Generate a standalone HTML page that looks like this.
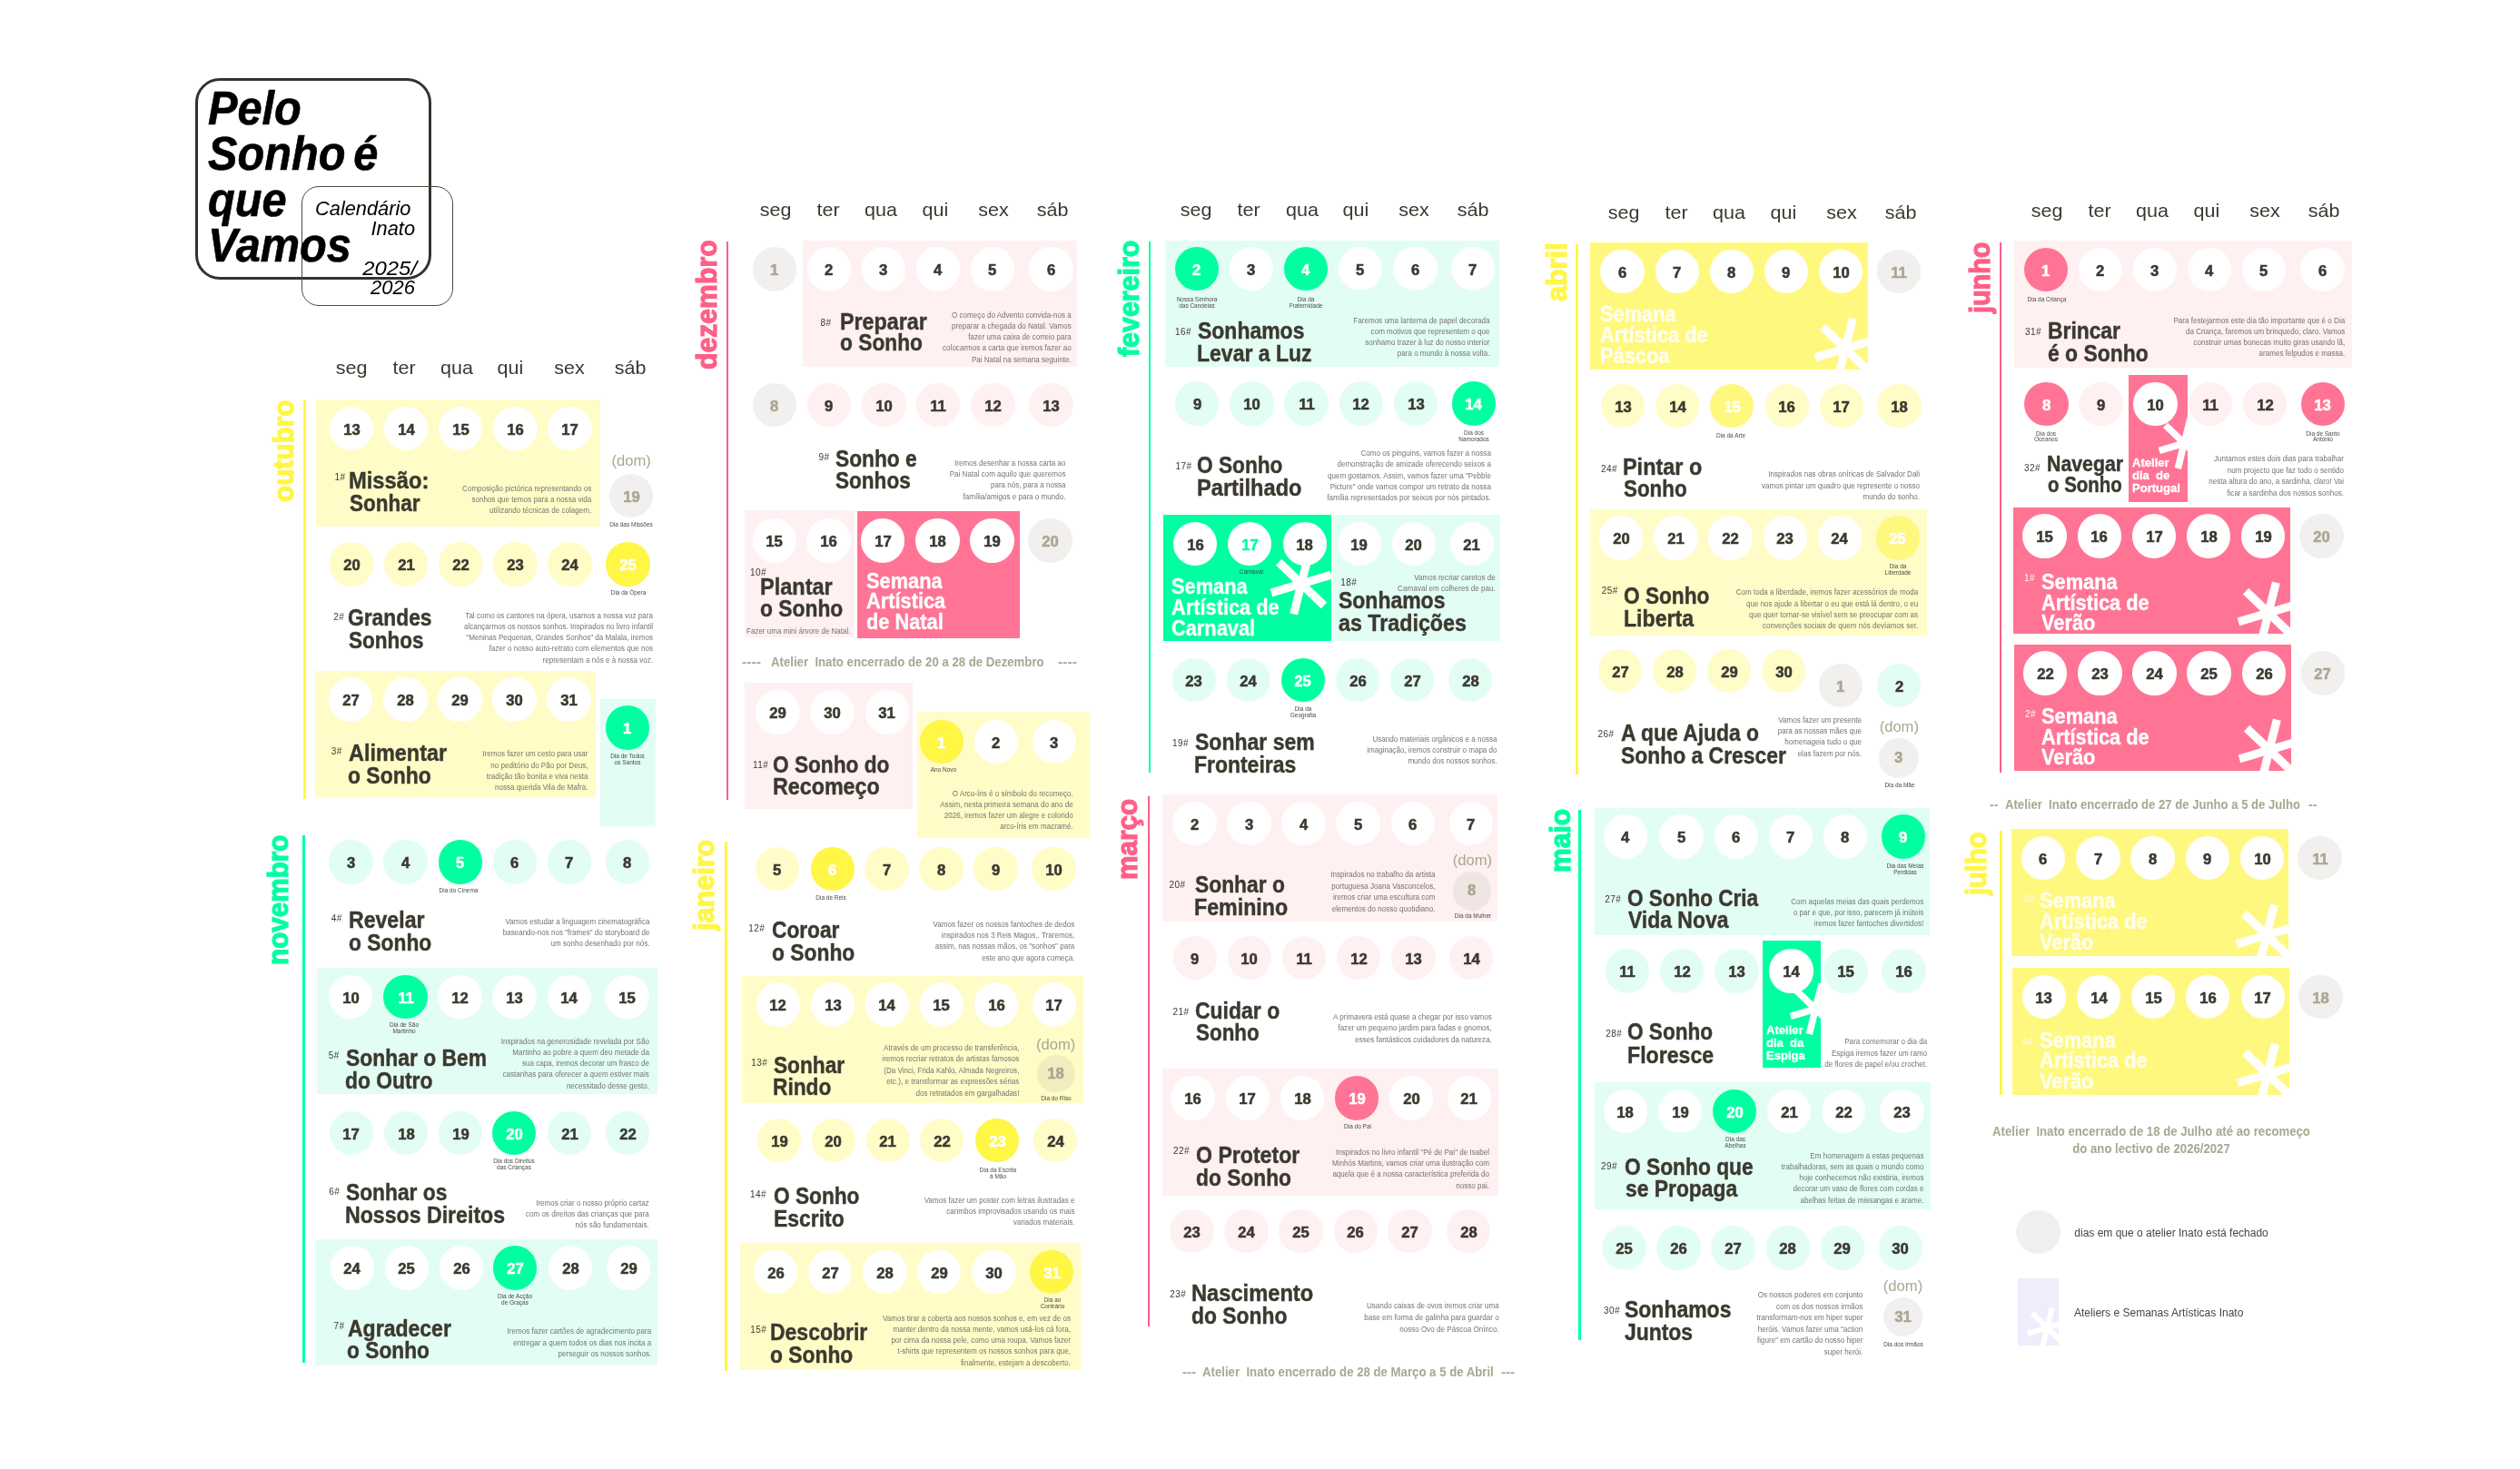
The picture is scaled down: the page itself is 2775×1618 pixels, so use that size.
<!DOCTYPE html>
<html lang="pt"><head><meta charset="utf-8"><title>Pelo Sonho é que Vamos — Calendário Inato 2025/2026</title><style>
html,body{margin:0;padding:0;background:#fff}
body{width:2775px;height:1618px;position:relative;overflow:hidden;font-family:"Liberation Sans",sans-serif}
#wrap{position:absolute;left:0;top:0;width:2775px;height:1618px;will-change:transform}
.r{position:absolute;box-sizing:border-box}
.t{position:absolute;white-space:nowrap;margin:0}
.m{font-weight:700}
.c{position:absolute;border-radius:50%;text-align:center;font-weight:700;font-size:17px;-webkit-text-stroke:0.55px currentColor}
.c span{display:inline-block;transform:scaleX(.98)}
.a{position:absolute;overflow:visible}
</style></head>
<body>
<div id="wrap">
<div class="r" style="left:214.6px;top:85.8px;width:260.5px;height:222px;border:3.2px solid #34332b;border-radius:27px;background:none"></div>
<div class="r" style="left:332px;top:204.5px;width:167px;height:132.4px;border:1.2px solid #4a4a40;border-radius:19px;background:none"></div>
<div id="t1" class="t" style="top:95.15px;font-size:51px;line-height:50.35px;color:#000;font-weight:700;font-style:italic;left:228.6px;text-align:left;transform-origin:0 0;transform:scaleX(0.955);-webkit-text-stroke:0.6px #000;word-spacing:-5px;"><span>Pelo</span><br>Sonho é<br>que<br>Vamos</div>
<div id="t2" class="t" style="top:219.47px;font-size:21.6px;line-height:21.7px;color:#000;font-style:italic;right:2322.7px;text-align:right;transform-origin:100% 0;transform:scaleX(1.0092);"><span>Calendário</span></div>
<div id="t3" class="t" style="top:241.27px;font-size:21.6px;line-height:21.7px;color:#000;font-style:italic;right:2317.8px;text-align:right;transform-origin:100% 0;transform:scaleX(1.0098);"><span>Inato</span></div>
<div id="t4" class="t" style="top:284.77px;font-size:21.6px;line-height:21.7px;color:#000;font-style:italic;right:2315.9px;text-align:right;transform-origin:100% 0;transform:scaleX(1.1083);"><span>2025/</span></div>
<div id="t5" class="t" style="top:306.27px;font-size:21.6px;line-height:21.7px;color:#000;font-style:italic;right:2317.8px;text-align:right;transform-origin:100% 0;transform:scaleX(1.0198);"><span>2026</span></div>
<div id="t6" class="t" style="top:393.49px;font-size:20.8px;line-height:24px;color:#3b392f;left:186.7px;width:400px;text-align:center;transform-origin:50% 0;transform:scaleX(1.035);"><span>seg</span></div>
<div id="t7" class="t" style="top:393.49px;font-size:20.8px;line-height:24px;color:#3b392f;left:244.6px;width:400px;text-align:center;transform-origin:50% 0;transform:scaleX(1.035);"><span>ter</span></div>
<div id="t8" class="t" style="top:393.49px;font-size:20.8px;line-height:24px;color:#3b392f;left:303.2px;width:400px;text-align:center;transform-origin:50% 0;transform:scaleX(1.035);"><span>qua</span></div>
<div id="t9" class="t" style="top:393.49px;font-size:20.8px;line-height:24px;color:#3b392f;left:362.4px;width:400px;text-align:center;transform-origin:50% 0;transform:scaleX(1.035);"><span>qui</span></div>
<div id="t10" class="t" style="top:393.49px;font-size:20.8px;line-height:24px;color:#3b392f;left:426.9px;width:400px;text-align:center;transform-origin:50% 0;transform:scaleX(1.035);"><span>sex</span></div>
<div id="t11" class="t" style="top:393.49px;font-size:20.8px;line-height:24px;color:#3b392f;left:494.1px;width:400px;text-align:center;transform-origin:50% 0;transform:scaleX(1.035);"><span>sáb</span></div>
<div id="t12" class="t m" style="left:296.96px;top:553px;font-size:31px;line-height:31px;color:#fff645;-webkit-text-stroke:1.2px #fff645;transform-origin:0 0;transform:rotate(-90deg) scaleX(0.9592)"><span>outubro</span></div>
<div class="r" style="left:333.8px;top:441.2px;width:2.8px;height:439.3px;background:#fff645"></div>
<div class="r" style="left:348.2px;top:440px;width:312.7px;height:139.8px;background:#fffcc7"></div>
<div class="c" style="left:362.9px;top:447.8px;width:48.4px;height:48.4px;line-height:51.4px;background:#fff;color:#3b392f"><span>13</span></div>
<div class="c" style="left:423px;top:447.8px;width:48.4px;height:48.4px;line-height:51.4px;background:#fff;color:#3b392f"><span>14</span></div>
<div class="c" style="left:483px;top:447.8px;width:48.4px;height:48.4px;line-height:51.4px;background:#fff;color:#3b392f"><span>15</span></div>
<div class="c" style="left:543.2px;top:447.8px;width:48.4px;height:48.4px;line-height:51.4px;background:#fff;color:#3b392f"><span>16</span></div>
<div class="c" style="left:603.2px;top:447.8px;width:48.4px;height:48.4px;line-height:51.4px;background:#fff;color:#3b392f"><span>17</span></div>
<div id="t13" class="t" style="top:519.93px;font-size:10px;line-height:12px;color:#3b392f;letter-spacing:0.45px;left:368.6px;text-align:left;transform-origin:0 0;"><span>1#</span></div>
<div id="t14" class="t" style="top:517.03px;font-size:25.6px;line-height:24.8px;color:#3b392f;font-weight:700;left:384.07px;text-align:left;transform-origin:0 0;transform:scaleX(0.9271);-webkit-text-stroke:0.45px #3b392f;"><span>Missão:</span></div>
<div id="t15" class="t" style="top:541.83px;font-size:25.6px;line-height:24.8px;color:#3b392f;font-weight:700;left:385px;text-align:left;transform-origin:0 0;transform:scaleX(0.8775);-webkit-text-stroke:0.45px #3b392f;"><span>Sonhar</span></div>
<div id="t16" class="t" style="top:531.57px;font-size:8.3px;line-height:12.1px;color:#74746e;right:2124.2px;text-align:right;transform-origin:100% 0;transform:scaleX(0.972);"><span>Composição pictórica representando os</span><br>sonhos que temos para a nossa vida<br>utilizando técnicas de colagem.</div>
<div id="t17" class="t" style="top:499.05px;font-size:16.6px;line-height:18px;color:#a9a792;left:495.2px;width:400px;text-align:center;transform-origin:50% 0;"><span>(dom)</span></div>
<div class="c" style="left:671px;top:521.6px;width:48.4px;height:48.4px;line-height:51.4px;background:#f1f0ee;color:#a9a792"><span>19</span></div>
<div id="t18" class="t" style="top:573.96px;font-size:7.2px;line-height:7.1px;color:#4a4a44;left:495.2px;width:400px;text-align:center;transform-origin:50% 0;transform:scaleX(0.9);"><span>Dia das Missões</span></div>
<div class="c" style="left:362.9px;top:597.4px;width:48.4px;height:48.4px;line-height:51.4px;background:#fffcc7;color:#3b392f"><span>20</span></div>
<div class="c" style="left:423px;top:597.4px;width:48.4px;height:48.4px;line-height:51.4px;background:#fffcc7;color:#3b392f"><span>21</span></div>
<div class="c" style="left:483px;top:597.4px;width:48.4px;height:48.4px;line-height:51.4px;background:#fffcc7;color:#3b392f"><span>22</span></div>
<div class="c" style="left:543.2px;top:597.4px;width:48.4px;height:48.4px;line-height:51.4px;background:#fffcc7;color:#3b392f"><span>23</span></div>
<div class="c" style="left:603.2px;top:597.4px;width:48.4px;height:48.4px;line-height:51.4px;background:#fffcc7;color:#3b392f"><span>24</span></div>
<div class="c" style="left:667.2px;top:597.4px;width:48.4px;height:48.4px;line-height:51.4px;background:#fff645;color:#fff"><span>25</span></div>
<div id="t19" class="t" style="top:648.86px;font-size:7.2px;line-height:7.1px;color:#4a4a44;left:491.6px;width:400px;text-align:center;transform-origin:50% 0;transform:scaleX(0.9);"><span>Dia da Ópera</span></div>
<div id="t20" class="t" style="top:674.23px;font-size:10px;line-height:12px;color:#3b392f;letter-spacing:0.45px;left:367.2px;text-align:left;transform-origin:0 0;"><span>2#</span></div>
<div id="t21" class="t" style="top:668.43px;font-size:25.6px;line-height:24.8px;color:#3b392f;font-weight:700;left:382.91px;text-align:left;transform-origin:0 0;transform:scaleX(0.8908);-webkit-text-stroke:0.45px #3b392f;"><span>Grandes</span></div>
<div id="t22" class="t" style="top:693.23px;font-size:25.6px;line-height:24.8px;color:#3b392f;font-weight:700;left:383.8px;text-align:left;transform-origin:0 0;transform:scaleX(0.8803);-webkit-text-stroke:0.45px #3b392f;"><span>Sonhos</span></div>
<div id="t23" class="t" style="top:671.6px;font-size:8.3px;line-height:12.25px;color:#74746e;right:2055.8px;text-align:right;transform-origin:100% 0;transform:scaleX(0.972);"><span>Tal como os cantores na ópera, usamos a nossa voz para</span><br>alcançarmos os nossos sonhos. Inspirados no livro infantil<br>"Meninas Pequenas, Grandes Sonhos" da Malala, iremos<br>fazer o nosso auto-retrato com elementos que nos<br>representam a nós e à nossa voz.</div>
<div class="r" style="left:346.8px;top:738.7px;width:309.4px;height:139.6px;background:#fffcc7"></div>
<div class="r" style="left:661.2px;top:770px;width:60.8px;height:139.6px;background:#e2fdf4"></div>
<div class="c" style="left:362px;top:746.2px;width:48.4px;height:48.4px;line-height:51.4px;background:#fff;color:#3b392f"><span>27</span></div>
<div class="c" style="left:422.2px;top:746.2px;width:48.4px;height:48.4px;line-height:51.4px;background:#fff;color:#3b392f"><span>28</span></div>
<div class="c" style="left:482.3px;top:746.2px;width:48.4px;height:48.4px;line-height:51.4px;background:#fff;color:#3b392f"><span>29</span></div>
<div class="c" style="left:542.4px;top:746.2px;width:48.4px;height:48.4px;line-height:51.4px;background:#fff;color:#3b392f"><span>30</span></div>
<div class="c" style="left:602.4px;top:746.2px;width:48.4px;height:48.4px;line-height:51.4px;background:#fff;color:#3b392f"><span>31</span></div>
<div class="c" style="left:666.6px;top:777.2px;width:48.4px;height:48.4px;line-height:51.4px;background:#00ffa0;color:#fff"><span>1</span></div>
<div id="t24" class="t" style="top:829.16px;font-size:7.2px;line-height:7.1px;color:#4a4a44;left:491.2px;width:400px;text-align:center;transform-origin:50% 0;transform:scaleX(0.9);"><span>Dia de Todos</span><br>os Santos</div>
<div id="t25" class="t" style="top:822.23px;font-size:10px;line-height:12px;color:#3b392f;letter-spacing:0.45px;left:364.8px;text-align:left;transform-origin:0 0;"><span>3#</span></div>
<div id="t26" class="t" style="top:817.43px;font-size:25.6px;line-height:24.8px;color:#3b392f;font-weight:700;left:383.6px;text-align:left;transform-origin:0 0;transform:scaleX(0.9163);-webkit-text-stroke:0.45px #3b392f;"><span>Alimentar</span></div>
<div id="t27" class="t" style="top:842.23px;font-size:25.6px;line-height:24.8px;color:#3b392f;font-weight:700;left:382.7px;text-align:left;transform-origin:0 0;transform:scaleX(0.8956);-webkit-text-stroke:0.45px #3b392f;"><span>o Sonho</span></div>
<div id="t28" class="t" style="top:824.46px;font-size:8.3px;line-height:12.33px;color:#74746e;right:2127.4px;text-align:right;transform-origin:100% 0;transform:scaleX(0.972);"><span>Iremos fazer um cesto para usar</span><br>no peditório do Pão por Deus,<br>tradição tão bonita e viva nesta<br>nossa querida Vila de Mafra.</div>
<div id="t29" class="t m" style="left:290.76px;top:1063px;font-size:31px;line-height:31px;color:#00ffa0;-webkit-text-stroke:1.2px #00ffa0;transform-origin:0 0;transform:rotate(-90deg) scaleX(0.9576)"><span>novembro</span></div>
<div class="r" style="left:333px;top:920px;width:2.8px;height:581px;background:#00ffa0"></div>
<div class="c" style="left:362.2px;top:925.4px;width:48.4px;height:48.4px;line-height:51.4px;background:#e2fdf4;color:#3b392f"><span>3</span></div>
<div class="c" style="left:422.2px;top:925.4px;width:48.4px;height:48.4px;line-height:51.4px;background:#e2fdf4;color:#3b392f"><span>4</span></div>
<div class="c" style="left:482.8px;top:925.4px;width:48.4px;height:48.4px;line-height:51.4px;background:#00ffa0;color:#fff"><span>5</span></div>
<div class="c" style="left:542.8px;top:925.4px;width:48.4px;height:48.4px;line-height:51.4px;background:#e2fdf4;color:#3b392f"><span>6</span></div>
<div class="c" style="left:602.8px;top:925.4px;width:48.4px;height:48.4px;line-height:51.4px;background:#e2fdf4;color:#3b392f"><span>7</span></div>
<div class="c" style="left:666.6px;top:925.4px;width:48.4px;height:48.4px;line-height:51.4px;background:#e2fdf4;color:#3b392f"><span>8</span></div>
<div id="t30" class="t" style="top:976.96px;font-size:7.2px;line-height:7.1px;color:#4a4a44;left:305.4px;width:400px;text-align:center;transform-origin:50% 0;transform:scaleX(0.9);"><span>Dia do Cinema</span></div>
<div id="t31" class="t" style="top:1006.03px;font-size:10px;line-height:12px;color:#3b392f;letter-spacing:0.45px;left:364.8px;text-align:left;transform-origin:0 0;"><span>4#</span></div>
<div id="t32" class="t" style="top:1001.23px;font-size:25.6px;line-height:24.8px;color:#3b392f;font-weight:700;left:384.1px;text-align:left;transform-origin:0 0;transform:scaleX(0.9024);-webkit-text-stroke:0.45px #3b392f;"><span>Revelar</span></div>
<div id="t33" class="t" style="top:1026.03px;font-size:25.6px;line-height:24.8px;color:#3b392f;font-weight:700;left:384.11px;text-align:left;transform-origin:0 0;transform:scaleX(0.8916);-webkit-text-stroke:0.45px #3b392f;"><span>o Sonho</span></div>
<div id="t34" class="t" style="top:1008.67px;font-size:8.3px;line-height:12.1px;color:#74746e;right:2059.8px;text-align:right;transform-origin:100% 0;transform:scaleX(0.972);"><span>Vamos estudar a linguagem cinematográfica</span><br>baseando-nos nos "frames" do storyboard de<br>um  sonho desenhado por nós.</div>
<div class="r" style="left:348.6px;top:1065.5px;width:375.5px;height:139.3px;background:#e2fdf4"></div>
<div class="c" style="left:361.8px;top:1074px;width:48.4px;height:48.4px;line-height:51.4px;background:#fff;color:#3b392f"><span>10</span></div>
<div class="c" style="left:422.4px;top:1074px;width:48.4px;height:48.4px;line-height:51.4px;background:#00ffa0;color:#fff"><span>11</span></div>
<div class="c" style="left:482.4px;top:1074px;width:48.4px;height:48.4px;line-height:51.4px;background:#fff;color:#3b392f"><span>12</span></div>
<div class="c" style="left:542.4px;top:1074px;width:48.4px;height:48.4px;line-height:51.4px;background:#fff;color:#3b392f"><span>13</span></div>
<div class="c" style="left:602.6px;top:1074px;width:48.4px;height:48.4px;line-height:51.4px;background:#fff;color:#3b392f"><span>14</span></div>
<div class="c" style="left:666.2px;top:1074px;width:48.4px;height:48.4px;line-height:51.4px;background:#fff;color:#3b392f"><span>15</span></div>
<div id="t35" class="t" style="top:1124.76px;font-size:7.2px;line-height:7.1px;color:#4a4a44;left:244.6px;width:400px;text-align:center;transform-origin:50% 0;transform:scaleX(0.9);"><span>Dia de São</span><br>Martinho</div>
<div id="t36" class="t" style="top:1157.24px;font-size:10px;line-height:12px;color:#3b392f;letter-spacing:0.45px;left:361.8px;text-align:left;transform-origin:0 0;"><span>5#</span></div>
<div id="t37" class="t" style="top:1152.83px;font-size:25.6px;line-height:24.8px;color:#3b392f;font-weight:700;left:380.8px;text-align:left;transform-origin:0 0;transform:scaleX(0.8938);-webkit-text-stroke:0.45px #3b392f;"><span>Sonhar o Bem</span></div>
<div id="t38" class="t" style="top:1177.63px;font-size:25.6px;line-height:24.8px;color:#3b392f;font-weight:700;left:379.91px;text-align:left;transform-origin:0 0;transform:scaleX(0.8928);-webkit-text-stroke:0.45px #3b392f;"><span>do Outro</span></div>
<div id="t39" class="t" style="top:1140.59px;font-size:8.3px;line-height:12.28px;color:#74746e;right:2060.4px;text-align:right;transform-origin:100% 0;transform:scaleX(0.972);"><span>Inspirados na generosidade revelada por São</span><br>Martinho ao pobre a quem deu metade da<br>sua capa, iremos decorar um frasco de<br>castanhas para oferecer a quem estiver mais<br>necessitado desse gesto.</div>
<div class="c" style="left:362.6px;top:1223.5px;width:48.4px;height:48.4px;line-height:51.4px;background:#e2fdf4;color:#3b392f"><span>17</span></div>
<div class="c" style="left:422.8px;top:1223.5px;width:48.4px;height:48.4px;line-height:51.4px;background:#e2fdf4;color:#3b392f"><span>18</span></div>
<div class="c" style="left:482.8px;top:1223.5px;width:48.4px;height:48.4px;line-height:51.4px;background:#e2fdf4;color:#3b392f"><span>19</span></div>
<div class="c" style="left:542px;top:1223.5px;width:48.4px;height:48.4px;line-height:51.4px;background:#00ffa0;color:#fff"><span>20</span></div>
<div class="c" style="left:602.8px;top:1223.5px;width:48.4px;height:48.4px;line-height:51.4px;background:#e2fdf4;color:#3b392f"><span>21</span></div>
<div class="c" style="left:666.8px;top:1223.5px;width:48.4px;height:48.4px;line-height:51.4px;background:#e2fdf4;color:#3b392f"><span>22</span></div>
<div id="t40" class="t" style="top:1275.06px;font-size:7.2px;line-height:7.1px;color:#4a4a44;left:365.8px;width:400px;text-align:center;transform-origin:50% 0;transform:scaleX(0.9);"><span>Dia dos Direitos</span><br>das Crianças</div>
<div id="t41" class="t" style="top:1306.84px;font-size:10px;line-height:12px;color:#3b392f;letter-spacing:0.45px;left:362.2px;text-align:left;transform-origin:0 0;"><span>6#</span></div>
<div id="t42" class="t" style="top:1300.88px;font-size:25.6px;line-height:25.5px;color:#3b392f;font-weight:700;left:381.2px;text-align:left;transform-origin:0 0;transform:scaleX(0.8894);-webkit-text-stroke:0.45px #3b392f;"><span>Sonhar os</span></div>
<div id="t43" class="t" style="top:1326.38px;font-size:25.6px;line-height:25.5px;color:#3b392f;font-weight:700;left:380.3px;text-align:left;transform-origin:0 0;transform:scaleX(0.9038);-webkit-text-stroke:0.45px #3b392f;"><span>Nossos Direitos</span></div>
<div id="t44" class="t" style="top:1318.62px;font-size:8.3px;line-height:12.4px;color:#74746e;right:2059.8px;text-align:right;transform-origin:100% 0;transform:scaleX(0.972);"><span>Iremos criar o nosso próprio cartaz</span><br>com os direitos das crianças que para<br>nós são fundamentais.</div>
<div class="r" style="left:348.2px;top:1364.5px;width:375.9px;height:139.9px;background:#e2fdf4"></div>
<div class="c" style="left:363.6px;top:1372.2px;width:48.4px;height:48.4px;line-height:51.4px;background:#fff;color:#3b392f"><span>24</span></div>
<div class="c" style="left:423.6px;top:1372.2px;width:48.4px;height:48.4px;line-height:51.4px;background:#fff;color:#3b392f"><span>25</span></div>
<div class="c" style="left:483.8px;top:1372.2px;width:48.4px;height:48.4px;line-height:51.4px;background:#fff;color:#3b392f"><span>26</span></div>
<div class="c" style="left:543px;top:1372.2px;width:48.4px;height:48.4px;line-height:51.4px;background:#00ffa0;color:#fff"><span>27</span></div>
<div class="c" style="left:604px;top:1372.2px;width:48.4px;height:48.4px;line-height:51.4px;background:#fff;color:#3b392f"><span>28</span></div>
<div class="c" style="left:667.8px;top:1372.2px;width:48.4px;height:48.4px;line-height:51.4px;background:#fff;color:#3b392f"><span>29</span></div>
<div id="t45" class="t" style="top:1423.96px;font-size:7.2px;line-height:7.1px;color:#4a4a44;left:367.4px;width:400px;text-align:center;transform-origin:50% 0;transform:scaleX(0.9);"><span>Dia de Acção</span><br>de Graças</div>
<div id="t46" class="t" style="top:1454.84px;font-size:10px;line-height:12px;color:#3b392f;letter-spacing:0.45px;left:367.6px;text-align:left;transform-origin:0 0;"><span>7#</span></div>
<div id="t47" class="t" style="top:1450.63px;font-size:25.6px;line-height:24.8px;color:#3b392f;font-weight:700;left:382.8px;text-align:left;transform-origin:0 0;transform:scaleX(0.8994);-webkit-text-stroke:0.45px #3b392f;"><span>Agradecer</span></div>
<div id="t48" class="t" style="top:1475.43px;font-size:25.6px;line-height:24.8px;color:#3b392f;font-weight:700;left:381.91px;text-align:left;transform-origin:0 0;transform:scaleX(0.8886);-webkit-text-stroke:0.45px #3b392f;"><span>o Sonho</span></div>
<div id="t49" class="t" style="top:1460.42px;font-size:8.3px;line-height:12.4px;color:#74746e;right:2058.2px;text-align:right;transform-origin:100% 0;transform:scaleX(0.972);"><span>Iremos fazer cartões de agradecimento para</span><br>entregar a quem todos os dias nos incita a<br>perseguir os nossos sonhos.</div>
<div id="t50" class="t" style="top:219.19px;font-size:20.8px;line-height:24px;color:#3b392f;left:653.9px;width:400px;text-align:center;transform-origin:50% 0;transform:scaleX(1.035);"><span>seg</span></div>
<div id="t51" class="t" style="top:219.19px;font-size:20.8px;line-height:24px;color:#3b392f;left:712px;width:400px;text-align:center;transform-origin:50% 0;transform:scaleX(1.035);"><span>ter</span></div>
<div id="t52" class="t" style="top:219.19px;font-size:20.8px;line-height:24px;color:#3b392f;left:770.2px;width:400px;text-align:center;transform-origin:50% 0;transform:scaleX(1.035);"><span>qua</span></div>
<div id="t53" class="t" style="top:219.19px;font-size:20.8px;line-height:24px;color:#3b392f;left:829.6px;width:400px;text-align:center;transform-origin:50% 0;transform:scaleX(1.035);"><span>qui</span></div>
<div id="t54" class="t" style="top:219.19px;font-size:20.8px;line-height:24px;color:#3b392f;left:893.7px;width:400px;text-align:center;transform-origin:50% 0;transform:scaleX(1.035);"><span>sex</span></div>
<div id="t55" class="t" style="top:219.19px;font-size:20.8px;line-height:24px;color:#3b392f;left:959.3px;width:400px;text-align:center;transform-origin:50% 0;transform:scaleX(1.035);"><span>sáb</span></div>
<div id="t56" class="t m" style="left:763.16px;top:406.9px;font-size:31px;line-height:31px;color:#ff5f87;-webkit-text-stroke:1.2px #ff5f87;transform-origin:0 0;transform:rotate(-90deg) scaleX(0.9739)"><span>dezembro</span></div>
<div class="r" style="left:799.6px;top:266.3px;width:2.8px;height:614.4px;background:#ff5f87"></div>
<div class="r" style="left:884.4px;top:264.8px;width:301.6px;height:139.5px;background:#fff0f1"></div>
<div class="c" style="left:828.7px;top:272.4px;width:48.4px;height:48.4px;line-height:51.4px;background:#f1f0ee;color:#a9a792"><span>1</span></div>
<div class="c" style="left:888.8px;top:272.4px;width:48.4px;height:48.4px;line-height:51.4px;background:#fff;color:#3b392f"><span>2</span></div>
<div class="c" style="left:948.8px;top:272.4px;width:48.4px;height:48.4px;line-height:51.4px;background:#fff;color:#3b392f"><span>3</span></div>
<div class="c" style="left:1008.8px;top:272.4px;width:48.4px;height:48.4px;line-height:51.4px;background:#fff;color:#3b392f"><span>4</span></div>
<div class="c" style="left:1068.9px;top:272.4px;width:48.4px;height:48.4px;line-height:51.4px;background:#fff;color:#3b392f"><span>5</span></div>
<div class="c" style="left:1133.2px;top:272.4px;width:48.4px;height:48.4px;line-height:51.4px;background:#fff;color:#3b392f"><span>6</span></div>
<div id="t57" class="t" style="top:350.13px;font-size:10px;line-height:12px;color:#3b392f;letter-spacing:0.45px;left:903.4px;text-align:left;transform-origin:0 0;"><span>8#</span></div>
<div id="t58" class="t" style="top:342.83px;font-size:25.6px;line-height:23.6px;color:#3b392f;font-weight:700;left:924.69px;text-align:left;transform-origin:0 0;transform:scaleX(0.9096);-webkit-text-stroke:0.45px #3b392f;"><span>Preparar</span></div>
<div id="t59" class="t" style="top:366.43px;font-size:25.6px;line-height:23.6px;color:#3b392f;font-weight:700;left:924.71px;text-align:left;transform-origin:0 0;transform:scaleX(0.8886);-webkit-text-stroke:0.45px #3b392f;"><span>o Sonho</span></div>
<div id="t60" class="t" style="top:340.6px;font-size:8.3px;line-height:12.25px;color:#74746e;right:1595.2px;text-align:right;transform-origin:100% 0;transform:scaleX(0.972);"><span>O começo do Advento convida-nos a</span><br>preparar a chegada do Natal. Vamos<br>fazer uma caixa de correio para<br>colocarmos a carta que iremos fazer ao<br>Pai Natal na semana seguinte.</div>
<div class="c" style="left:828.7px;top:422.1px;width:48.4px;height:48.4px;line-height:51.4px;background:#f1f0ee;color:#a9a792"><span>8</span></div>
<div class="c" style="left:888.8px;top:422.1px;width:48.4px;height:48.4px;line-height:51.4px;background:#fff0f1;color:#3b392f"><span>9</span></div>
<div class="c" style="left:949.2px;top:422.1px;width:48.4px;height:48.4px;line-height:51.4px;background:#fff0f1;color:#3b392f"><span>10</span></div>
<div class="c" style="left:1008.8px;top:422.1px;width:48.4px;height:48.4px;line-height:51.4px;background:#fff0f1;color:#3b392f"><span>11</span></div>
<div class="c" style="left:1069.2px;top:422.1px;width:48.4px;height:48.4px;line-height:51.4px;background:#fff0f1;color:#3b392f"><span>12</span></div>
<div class="c" style="left:1133.2px;top:422.1px;width:48.4px;height:48.4px;line-height:51.4px;background:#fff0f1;color:#3b392f"><span>13</span></div>
<div id="t61" class="t" style="top:497.94px;font-size:10px;line-height:12px;color:#3b392f;letter-spacing:0.45px;left:901.5px;text-align:left;transform-origin:0 0;"><span>9#</span></div>
<div id="t62" class="t" style="top:493.03px;font-size:25.6px;line-height:24px;color:#3b392f;font-weight:700;left:919.5px;text-align:left;transform-origin:0 0;transform:scaleX(0.8886);-webkit-text-stroke:0.45px #3b392f;"><span>Sonho e</span></div>
<div id="t63" class="t" style="top:517.03px;font-size:25.6px;line-height:24px;color:#3b392f;font-weight:700;left:919.5px;text-align:left;transform-origin:0 0;transform:scaleX(0.8814);-webkit-text-stroke:0.45px #3b392f;"><span>Sonhos</span></div>
<div id="t64" class="t" style="top:503.79px;font-size:8.3px;line-height:12.27px;color:#74746e;right:1601.4px;text-align:right;transform-origin:100% 0;transform:scaleX(0.972);"><span>Iremos desenhar a nossa carta ao</span><br>Pai Natal com aquilo que queremos<br>para nós, para a nossa<br>família/amigos e para o mundo.</div>
<div class="r" style="left:820.1px;top:562.4px;width:120.5px;height:139.7px;background:#fff0f1"></div>
<div class="r" style="left:944px;top:563.1px;width:179px;height:139.6px;background:#ff7495"></div>
<div class="c" style="left:828.7px;top:571.2px;width:48.4px;height:48.4px;line-height:51.4px;background:#fff;color:#3b392f"><span>15</span></div>
<div class="c" style="left:888.2px;top:571.2px;width:48.4px;height:48.4px;line-height:51.4px;background:#fff;color:#3b392f"><span>16</span></div>
<div class="c" style="left:947.8px;top:571.2px;width:48.4px;height:48.4px;line-height:51.4px;background:#fff;color:#3b392f"><span>17</span></div>
<div class="c" style="left:1008.3px;top:571.2px;width:48.4px;height:48.4px;line-height:51.4px;background:#fff;color:#3b392f"><span>18</span></div>
<div class="c" style="left:1068.3px;top:571.2px;width:48.4px;height:48.4px;line-height:51.4px;background:#fff;color:#3b392f"><span>19</span></div>
<div class="c" style="left:1132.2px;top:571.2px;width:48.4px;height:48.4px;line-height:51.4px;background:#f1f0ee;color:#a9a792"><span>20</span></div>
<div id="t65" class="t" style="top:625.03px;font-size:10px;line-height:12px;color:#3b392f;letter-spacing:0.45px;left:826px;text-align:left;transform-origin:0 0;"><span>10#</span></div>
<div id="t66" class="t" style="top:633.63px;font-size:25.6px;line-height:24.8px;color:#3b392f;font-weight:700;left:837.28px;text-align:left;transform-origin:0 0;transform:scaleX(0.9183);-webkit-text-stroke:0.45px #3b392f;"><span>Plantar</span></div>
<div id="t67" class="t" style="top:658.43px;font-size:25.6px;line-height:24.8px;color:#3b392f;font-weight:700;left:837.31px;text-align:left;transform-origin:0 0;transform:scaleX(0.8916);-webkit-text-stroke:0.45px #3b392f;"><span>o Sonho</span></div>
<div id="t68" class="t" style="top:688.52px;font-size:8.3px;line-height:12px;color:#74746e;right:1838.8px;text-align:right;transform-origin:100% 0;transform:scaleX(0.966);"><span>Fazer uma mini árvore de Natal.</span></div>
<div id="t69" class="t" style="top:628.76px;font-size:23.2px;line-height:22.4px;color:#fff;font-weight:700;left:953.6px;text-align:left;transform-origin:0 0;transform:scaleX(0.94);-webkit-text-stroke:0.35px #fff;"><span>Semana</span><br>Artística<br>de Natal</div>
<div id="t70" class="t" style="top:721.44px;font-size:14.6px;line-height:16px;color:#a9a792;font-weight:700;left:849.1px;text-align:left;transform-origin:0 0;transform:scaleX(0.9039);white-space:pre;"><span>Atelier  Inato encerrado de 20 a 28 de Dezembro</span></div>
<div id="t71" class="t" style="top:721.44px;font-size:14.6px;line-height:16px;color:#a9a792;font-weight:700;left:816.7px;text-align:left;transform-origin:0 0;transform:scaleX(1.0795);"><span>----</span></div>
<div id="t72" class="t" style="top:721.44px;font-size:14.6px;line-height:16px;color:#a9a792;font-weight:700;left:1164.6px;text-align:left;transform-origin:0 0;transform:scaleX(1.0795);"><span>----</span></div>
<div class="r" style="left:820.1px;top:751.5px;width:184.9px;height:139.1px;background:#fff0f1"></div>
<div class="r" style="left:1009.8px;top:783.9px;width:190.1px;height:139.5px;background:#fffcc7"></div>
<div class="c" style="left:832.2px;top:760.2px;width:48.4px;height:48.4px;line-height:51.4px;background:#fff;color:#3b392f"><span>29</span></div>
<div class="c" style="left:892.2px;top:760.2px;width:48.4px;height:48.4px;line-height:51.4px;background:#fff;color:#3b392f"><span>30</span></div>
<div class="c" style="left:952.6px;top:760.2px;width:48.4px;height:48.4px;line-height:51.4px;background:#fff;color:#3b392f"><span>31</span></div>
<div class="c" style="left:1012.7px;top:793px;width:48.4px;height:48.4px;line-height:51.4px;background:#fff645;color:#fff"><span>1</span></div>
<div class="c" style="left:1072.7px;top:793px;width:48.4px;height:48.4px;line-height:51.4px;background:#fff;color:#3b392f"><span>2</span></div>
<div class="c" style="left:1136.6px;top:793px;width:48.4px;height:48.4px;line-height:51.4px;background:#fff;color:#3b392f"><span>3</span></div>
<div id="t73" class="t" style="top:843.96px;font-size:7.2px;line-height:7.1px;color:#4a4a44;left:838.8px;width:400px;text-align:center;transform-origin:50% 0;transform:scaleX(0.9);"><span>Ano Novo</span></div>
<div id="t74" class="t" style="top:837.03px;font-size:10px;line-height:12px;color:#3b392f;letter-spacing:0.45px;left:829px;text-align:left;transform-origin:0 0;"><span>11#</span></div>
<div id="t75" class="t" style="top:831.18px;font-size:25.6px;line-height:23.9px;color:#3b392f;font-weight:700;left:851.31px;text-align:left;transform-origin:0 0;transform:scaleX(0.8851);-webkit-text-stroke:0.45px #3b392f;"><span>O Sonho do</span></div>
<div id="t76" class="t" style="top:855.08px;font-size:25.6px;line-height:23.9px;color:#3b392f;font-weight:700;left:851.29px;text-align:left;transform-origin:0 0;transform:scaleX(0.9092);-webkit-text-stroke:0.45px #3b392f;"><span>Recomeço</span></div>
<div id="t77" class="t" style="top:867.69px;font-size:8.3px;line-height:12.27px;color:#74746e;right:1593.2px;text-align:right;transform-origin:100% 0;transform:scaleX(0.972);"><span>O Arco-Íris é o símbolo do recomeço.</span><br>Assim, nesta primeira semana do ano de<br>2026, iremos fazer um alegre e colorido<br>arco-íris em macramé.</div>
<div id="t78" class="t m" style="left:759.96px;top:1024.6px;font-size:31px;line-height:31px;color:#fff645;-webkit-text-stroke:1.2px #fff645;transform-origin:0 0;transform:rotate(-90deg) scaleX(0.9867)"><span>janeiro</span></div>
<div class="r" style="left:798.3px;top:926.5px;width:2.8px;height:583.1px;background:#fff645"></div>
<div class="c" style="left:832px;top:933px;width:48.4px;height:48.4px;line-height:51.4px;background:#fffcc7;color:#3b392f"><span>5</span></div>
<div class="c" style="left:892.6px;top:933px;width:48.4px;height:48.4px;line-height:51.4px;background:#fff645;color:#fff"><span>6</span></div>
<div class="c" style="left:952.3px;top:933px;width:48.4px;height:48.4px;line-height:51.4px;background:#fffcc7;color:#3b392f"><span>7</span></div>
<div class="c" style="left:1012.3px;top:933px;width:48.4px;height:48.4px;line-height:51.4px;background:#fffcc7;color:#3b392f"><span>8</span></div>
<div class="c" style="left:1072.3px;top:933px;width:48.4px;height:48.4px;line-height:51.4px;background:#fffcc7;color:#3b392f"><span>9</span></div>
<div class="c" style="left:1136.2px;top:933px;width:48.4px;height:48.4px;line-height:51.4px;background:#fffcc7;color:#3b392f"><span>10</span></div>
<div id="t79" class="t" style="top:984.76px;font-size:7.2px;line-height:7.1px;color:#4a4a44;left:715.3px;width:400px;text-align:center;transform-origin:50% 0;transform:scaleX(0.9);"><span>Dia de Reis</span></div>
<div id="t80" class="t" style="top:1017.33px;font-size:10px;line-height:12px;color:#3b392f;letter-spacing:0.45px;left:824.3px;text-align:left;transform-origin:0 0;"><span>12#</span></div>
<div id="t81" class="t" style="top:1012.23px;font-size:25.6px;line-height:24.4px;color:#3b392f;font-weight:700;left:850.31px;text-align:left;transform-origin:0 0;transform:scaleX(0.8873);-webkit-text-stroke:0.45px #3b392f;"><span>Coroar</span></div>
<div id="t82" class="t" style="top:1036.63px;font-size:25.6px;line-height:24.4px;color:#3b392f;font-weight:700;left:850.31px;text-align:left;transform-origin:0 0;transform:scaleX(0.8916);-webkit-text-stroke:0.45px #3b392f;"><span>o Sonho</span></div>
<div id="t83" class="t" style="top:1011.91px;font-size:8.3px;line-height:12.23px;color:#74746e;right:1592px;text-align:right;transform-origin:100% 0;transform:scaleX(0.972);"><span>Vamos fazer os nossos fantoches de dedos</span><br>inspirados nos 3 Reis Magos,. Traremos,<br>assim, nas nossas mãos, os "sonhos" para<br>este ano que agora começa.</div>
<div class="r" style="left:817.3px;top:1075px;width:375.3px;height:139.7px;background:#fffcc7"></div>
<div class="c" style="left:832.5px;top:1082.2px;width:48.4px;height:48.4px;line-height:51.4px;background:#fff;color:#3b392f"><span>12</span></div>
<div class="c" style="left:893px;top:1082.2px;width:48.4px;height:48.4px;line-height:51.4px;background:#fff;color:#3b392f"><span>13</span></div>
<div class="c" style="left:952.6px;top:1082.2px;width:48.4px;height:48.4px;line-height:51.4px;background:#fff;color:#3b392f"><span>14</span></div>
<div class="c" style="left:1012.7px;top:1082.2px;width:48.4px;height:48.4px;line-height:51.4px;background:#fff;color:#3b392f"><span>15</span></div>
<div class="c" style="left:1073.1px;top:1082.2px;width:48.4px;height:48.4px;line-height:51.4px;background:#fff;color:#3b392f"><span>16</span></div>
<div class="c" style="left:1136.6px;top:1082.2px;width:48.4px;height:48.4px;line-height:51.4px;background:#fff;color:#3b392f"><span>17</span></div>
<div id="t84" class="t" style="top:1142.15px;font-size:16.6px;line-height:18px;color:#a9a792;left:962.7px;width:400px;text-align:center;transform-origin:50% 0;"><span>(dom)</span></div>
<div class="c" style="left:1142px;top:1161.7px;width:41.6px;height:41.6px;line-height:41.6px;background:#f1edbe;color:#a9a792"><span>18</span></div>
<div id="t85" class="t" style="top:1206.06px;font-size:7.2px;line-height:7.1px;color:#4a4a44;left:963.3px;width:400px;text-align:center;transform-origin:50% 0;transform:scaleX(0.9);"><span>Dia do Riso</span></div>
<div id="t86" class="t" style="top:1165.14px;font-size:10px;line-height:12px;color:#3b392f;letter-spacing:0.45px;left:827.2px;text-align:left;transform-origin:0 0;"><span>13#</span></div>
<div id="t87" class="t" style="top:1160.58px;font-size:25.6px;line-height:24.5px;color:#3b392f;font-weight:700;left:851.8px;text-align:left;transform-origin:0 0;transform:scaleX(0.8854);-webkit-text-stroke:0.45px #3b392f;"><span>Sonhar</span></div>
<div id="t88" class="t" style="top:1185.08px;font-size:25.6px;line-height:24.5px;color:#3b392f;font-weight:700;left:850.91px;text-align:left;transform-origin:0 0;transform:scaleX(0.8877);-webkit-text-stroke:0.45px #3b392f;"><span>Rindo</span></div>
<div id="t89" class="t" style="top:1147.69px;font-size:8.3px;line-height:12.48px;color:#74746e;right:1653px;text-align:right;transform-origin:100% 0;transform:scaleX(0.972);"><span>Através de um processo de transferência,</span><br>iremos recriar retratos de artistas famosos <br>(Da Vinci, Frida Kahlo, Almada Negreiros,<br>etc.), e transformar as expressões sérias<br>dos retratados em gargalhadas!</div>
<div class="c" style="left:833.9px;top:1231.5px;width:48.4px;height:48.4px;line-height:51.4px;background:#fffcc7;color:#3b392f"><span>19</span></div>
<div class="c" style="left:893.5px;top:1231.5px;width:48.4px;height:48.4px;line-height:51.4px;background:#fffcc7;color:#3b392f"><span>20</span></div>
<div class="c" style="left:953.6px;top:1231.5px;width:48.4px;height:48.4px;line-height:51.4px;background:#fffcc7;color:#3b392f"><span>21</span></div>
<div class="c" style="left:1013.1px;top:1231.5px;width:48.4px;height:48.4px;line-height:51.4px;background:#fffcc7;color:#3b392f"><span>22</span></div>
<div class="c" style="left:1074.1px;top:1231.5px;width:48.4px;height:48.4px;line-height:51.4px;background:#fff645;color:#fff"><span>23</span></div>
<div class="c" style="left:1137.9px;top:1231.5px;width:48.4px;height:48.4px;line-height:51.4px;background:#fffcc7;color:#3b392f"><span>24</span></div>
<div id="t90" class="t" style="top:1284.86px;font-size:7.2px;line-height:7.1px;color:#4a4a44;left:898.5px;width:400px;text-align:center;transform-origin:50% 0;transform:scaleX(0.9);"><span>Dia da Escrita</span><br>à Mão</div>
<div id="t91" class="t" style="top:1310.14px;font-size:10px;line-height:12px;color:#3b392f;letter-spacing:0.45px;left:825.9px;text-align:left;transform-origin:0 0;"><span>14#</span></div>
<div id="t92" class="t" style="top:1305.03px;font-size:25.6px;line-height:24.8px;color:#3b392f;font-weight:700;left:851.91px;text-align:left;transform-origin:0 0;transform:scaleX(0.8858);-webkit-text-stroke:0.45px #3b392f;"><span>O Sonho</span></div>
<div id="t93" class="t" style="top:1329.83px;font-size:25.6px;line-height:24.8px;color:#3b392f;font-weight:700;left:851.9px;text-align:left;transform-origin:0 0;transform:scaleX(0.8951);-webkit-text-stroke:0.45px #3b392f;"><span>Escrito</span></div>
<div id="t94" class="t" style="top:1315.82px;font-size:8.3px;line-height:12px;color:#74746e;right:1591.9px;text-align:right;transform-origin:100% 0;transform:scaleX(0.972);"><span>Vamos fazer um poster com letras ilustradas e</span><br>carimbos improvisados usando os mais<br>variados materiais.</div>
<div class="r" style="left:814.8px;top:1369.1px;width:375.2px;height:139.5px;background:#fffcc7"></div>
<div class="c" style="left:830.1px;top:1376.5px;width:48.4px;height:48.4px;line-height:51.4px;background:#fff;color:#3b392f"><span>26</span></div>
<div class="c" style="left:890.1px;top:1376.5px;width:48.4px;height:48.4px;line-height:51.4px;background:#fff;color:#3b392f"><span>27</span></div>
<div class="c" style="left:950.2px;top:1376.5px;width:48.4px;height:48.4px;line-height:51.4px;background:#fff;color:#3b392f"><span>28</span></div>
<div class="c" style="left:1009.8px;top:1376.5px;width:48.4px;height:48.4px;line-height:51.4px;background:#fff;color:#3b392f"><span>29</span></div>
<div class="c" style="left:1070.4px;top:1376.5px;width:48.4px;height:48.4px;line-height:51.4px;background:#fff;color:#3b392f"><span>30</span></div>
<div class="c" style="left:1134.1px;top:1376.5px;width:48.4px;height:48.4px;line-height:51.4px;background:#fff645;color:#fff"><span>31</span></div>
<div id="t95" class="t" style="top:1427.76px;font-size:7.2px;line-height:7.1px;color:#4a4a44;left:958.6px;width:400px;text-align:center;transform-origin:50% 0;transform:scaleX(0.9);"><span>Dia ao</span><br>Contrário</div>
<div id="t96" class="t" style="top:1458.84px;font-size:10px;line-height:12px;color:#3b392f;letter-spacing:0.45px;left:826.2px;text-align:left;transform-origin:0 0;"><span>15#</span></div>
<div id="t97" class="t" style="top:1454.83px;font-size:25.6px;line-height:24.8px;color:#3b392f;font-weight:700;left:848.4px;text-align:left;transform-origin:0 0;transform:scaleX(0.8977);-webkit-text-stroke:0.45px #3b392f;"><span>Descobrir</span></div>
<div id="t98" class="t" style="top:1479.63px;font-size:25.6px;line-height:24.8px;color:#3b392f;font-weight:700;left:848.41px;text-align:left;transform-origin:0 0;transform:scaleX(0.8916);-webkit-text-stroke:0.45px #3b392f;"><span>o Sonho</span></div>
<div id="t99" class="t" style="top:1445.7px;font-size:8.3px;line-height:12.25px;color:#74746e;right:1595.7px;text-align:right;transform-origin:100% 0;transform:scaleX(0.972);"><span>Vamos tirar a coberta aos nossos sonhos e, em vez de os</span><br>manter dentro da nossa mente, vamos usá-los cá fora,<br>por cima da nossa pele, como uma roupa. Vamos fazer<br>t-shirts que representem os nossos sonhos para que,<br>finalmente, estejam a descoberto.</div>
<div id="t100" class="t" style="top:219.19px;font-size:20.8px;line-height:24px;color:#3b392f;left:1117.3px;width:400px;text-align:center;transform-origin:50% 0;transform:scaleX(1.035);"><span>seg</span></div>
<div id="t101" class="t" style="top:219.19px;font-size:20.8px;line-height:24px;color:#3b392f;left:1175.3px;width:400px;text-align:center;transform-origin:50% 0;transform:scaleX(1.035);"><span>ter</span></div>
<div id="t102" class="t" style="top:219.19px;font-size:20.8px;line-height:24px;color:#3b392f;left:1233.6px;width:400px;text-align:center;transform-origin:50% 0;transform:scaleX(1.035);"><span>qua</span></div>
<div id="t103" class="t" style="top:219.19px;font-size:20.8px;line-height:24px;color:#3b392f;left:1292.7px;width:400px;text-align:center;transform-origin:50% 0;transform:scaleX(1.035);"><span>qui</span></div>
<div id="t104" class="t" style="top:219.19px;font-size:20.8px;line-height:24px;color:#3b392f;left:1357.3px;width:400px;text-align:center;transform-origin:50% 0;transform:scaleX(1.035);"><span>sex</span></div>
<div id="t105" class="t" style="top:219.19px;font-size:20.8px;line-height:24px;color:#3b392f;left:1422.3px;width:400px;text-align:center;transform-origin:50% 0;transform:scaleX(1.035);"><span>sáb</span></div>
<div id="t106" class="t m" style="left:1228.36px;top:392.6px;font-size:31px;line-height:31px;color:#00ffa0;-webkit-text-stroke:1.2px #00ffa0;transform-origin:0 0;transform:rotate(-90deg) scaleX(0.9796)"><span>fevereiro</span></div>
<div class="r" style="left:1264.5px;top:266.3px;width:2.8px;height:584.3px;background:#00ffa0"></div>
<div class="r" style="left:1283px;top:264.8px;width:367.9px;height:139.2px;background:#e2fdf4"></div>
<div class="c" style="left:1293.5px;top:272.1px;width:48.4px;height:48.4px;line-height:51.4px;background:#00ffa0;color:#fff"><span>2</span></div>
<div class="c" style="left:1353.5px;top:272.1px;width:48.4px;height:48.4px;line-height:51.4px;background:#fff;color:#3b392f"><span>3</span></div>
<div class="c" style="left:1413.8px;top:272.1px;width:48.4px;height:48.4px;line-height:51.4px;background:#00ffa0;color:#fff"><span>4</span></div>
<div class="c" style="left:1474px;top:272.1px;width:48.4px;height:48.4px;line-height:51.4px;background:#fff;color:#3b392f"><span>5</span></div>
<div class="c" style="left:1534.3px;top:272.1px;width:48.4px;height:48.4px;line-height:51.4px;background:#fff;color:#3b392f"><span>6</span></div>
<div class="c" style="left:1597.9px;top:272.1px;width:48.4px;height:48.4px;line-height:51.4px;background:#fff;color:#3b392f"><span>7</span></div>
<div id="t107" class="t" style="top:326.16px;font-size:7.2px;line-height:7.1px;color:#4a4a44;left:1118.3px;width:400px;text-align:center;transform-origin:50% 0;transform:scaleX(0.9);"><span>Nossa Senhora</span><br>das Candeias</div>
<div id="t108" class="t" style="top:326.16px;font-size:7.2px;line-height:7.1px;color:#4a4a44;left:1238.4px;width:400px;text-align:center;transform-origin:50% 0;transform:scaleX(0.9);"><span>Dia da</span><br>Fraternidade</div>
<div id="t109" class="t" style="top:359.94px;font-size:10px;line-height:12px;color:#3b392f;letter-spacing:0.45px;left:1293.9px;text-align:left;transform-origin:0 0;"><span>16#</span></div>
<div id="t110" class="t" style="top:351.53px;font-size:25.6px;line-height:25.2px;color:#3b392f;font-weight:700;left:1318.9px;text-align:left;transform-origin:0 0;transform:scaleX(0.8974);-webkit-text-stroke:0.45px #3b392f;"><span>Sonhamos</span></div>
<div id="t111" class="t" style="top:376.73px;font-size:25.6px;line-height:25.2px;color:#3b392f;font-weight:700;left:1318px;text-align:left;transform-origin:0 0;transform:scaleX(0.8992);-webkit-text-stroke:0.45px #3b392f;"><span>Levar a Luz</span></div>
<div id="t112" class="t" style="top:346.69px;font-size:8.3px;line-height:12.27px;color:#74746e;right:1134.8px;text-align:right;transform-origin:100% 0;transform:scaleX(0.972);"><span>Faremos uma lanterna de papel decorada</span><br>com motivos que representem o que<br>sonhamo trazer à luz do nosso interior<br>para o mundo à nossa volta.</div>
<div class="c" style="left:1294.1px;top:420.2px;width:48.4px;height:48.4px;line-height:51.4px;background:#e2fdf4;color:#3b392f"><span>9</span></div>
<div class="c" style="left:1354.3px;top:420.2px;width:48.4px;height:48.4px;line-height:51.4px;background:#e2fdf4;color:#3b392f"><span>10</span></div>
<div class="c" style="left:1414.4px;top:420.2px;width:48.4px;height:48.4px;line-height:51.4px;background:#e2fdf4;color:#3b392f"><span>11</span></div>
<div class="c" style="left:1474.6px;top:420.2px;width:48.4px;height:48.4px;line-height:51.4px;background:#e2fdf4;color:#3b392f"><span>12</span></div>
<div class="c" style="left:1534.8px;top:420.2px;width:48.4px;height:48.4px;line-height:51.4px;background:#e2fdf4;color:#3b392f"><span>13</span></div>
<div class="c" style="left:1598.5px;top:420.2px;width:48.4px;height:48.4px;line-height:51.4px;background:#00ffa0;color:#fff"><span>14</span></div>
<div id="t113" class="t" style="top:474.01px;font-size:7.2px;line-height:6.6px;color:#4a4a44;left:1422.7px;width:400px;text-align:center;transform-origin:50% 0;transform:scaleX(0.9);"><span>Dia dos</span><br>Namorados</div>
<div id="t114" class="t" style="top:507.83px;font-size:10px;line-height:12px;color:#3b392f;letter-spacing:0.45px;left:1294.4px;text-align:left;transform-origin:0 0;"><span>17#</span></div>
<div id="t115" class="t" style="top:500.23px;font-size:25.6px;line-height:24.8px;color:#3b392f;font-weight:700;left:1318.31px;text-align:left;transform-origin:0 0;transform:scaleX(0.8858);-webkit-text-stroke:0.45px #3b392f;"><span>O Sonho</span></div>
<div id="t116" class="t" style="top:525.03px;font-size:25.6px;line-height:24.8px;color:#3b392f;font-weight:700;left:1318.28px;text-align:left;transform-origin:0 0;transform:scaleX(0.923);-webkit-text-stroke:0.45px #3b392f;"><span>Partilhado</span></div>
<div id="t117" class="t" style="top:493px;font-size:8.3px;line-height:12.25px;color:#74746e;right:1133.6px;text-align:right;transform-origin:100% 0;transform:scaleX(0.972);"><span>Como os pinguins, vamos fazer a nossa</span><br>demonstração de amizade oferecendo seixos a<br>quem gostamos. Assim, vamos fazer uma "Pebble<br>Picture" onde vamos compor um retrato da nossa<br>família representados por seixos por nós pintados.</div>
<div class="r" style="left:1281.1px;top:566.8px;width:184.7px;height:139.7px;background:#00ffa0"></div>
<div class="r" style="left:1467.9px;top:566.8px;width:184.3px;height:139.7px;background:#e2fdf4"></div>
<svg class="a" style="left:1393.1px;top:603.2px" width="80" height="80" viewBox="-40 -40 80 80" fill="#fff"><rect x="-34.5" y="-4.55" width="69" height="9.1" transform="rotate(-16.6)"/><rect x="-34.5" y="-4.55" width="69" height="9.1" transform="rotate(43.8)"/><rect x="-34.5" y="-4.55" width="69" height="9.1" transform="rotate(104)"/></svg>
<div class="c" style="left:1292px;top:574.6px;width:48.4px;height:48.4px;line-height:51.4px;background:#fff;color:#3b392f"><span>16</span></div>
<div class="c" style="left:1352px;top:574.6px;width:48.4px;height:48.4px;line-height:51.4px;background:#fff;color:#00ffa0"><span>17</span></div>
<div class="c" style="left:1412.6px;top:574.6px;width:48.4px;height:48.4px;line-height:51.4px;background:#fff;color:#3b392f"><span>18</span></div>
<div class="c" style="left:1472.7px;top:574.6px;width:48.4px;height:48.4px;line-height:51.4px;background:#fff;color:#3b392f"><span>19</span></div>
<div class="c" style="left:1532.7px;top:574.6px;width:48.4px;height:48.4px;line-height:51.4px;background:#fff;color:#3b392f"><span>20</span></div>
<div class="c" style="left:1596.6px;top:574.6px;width:48.4px;height:48.4px;line-height:51.4px;background:#fff;color:#3b392f"><span>21</span></div>
<div id="t118" class="t" style="top:626.26px;font-size:7.2px;line-height:7.1px;color:#2b4a3c;left:1177.7px;width:400px;text-align:center;transform-origin:50% 0;transform:scaleX(0.9);"><span>Carnaval</span></div>
<div id="t119" class="t" style="top:635.21px;font-size:23.2px;line-height:22.9px;color:#fff;font-weight:700;left:1289.7px;text-align:left;transform-origin:0 0;transform:scaleX(0.94);-webkit-text-stroke:0.35px #fff;"><span>Semana</span><br>Artística de<br>Carnaval</div>
<div id="t120" class="t" style="top:635.93px;font-size:10px;line-height:12px;color:#3b392f;letter-spacing:0.45px;left:1476.3px;text-align:left;transform-origin:0 0;"><span>18#</span></div>
<div id="t121" class="t" style="top:648.93px;font-size:25.6px;line-height:24.8px;color:#3b392f;font-weight:700;left:1474.2px;text-align:left;transform-origin:0 0;transform:scaleX(0.8974);-webkit-text-stroke:0.45px #3b392f;"><span>Sonhamos</span></div>
<div id="t122" class="t" style="top:673.73px;font-size:25.6px;line-height:24.8px;color:#3b392f;font-weight:700;left:1474.2px;text-align:left;transform-origin:0 0;transform:scaleX(0.9087);-webkit-text-stroke:0.45px #3b392f;"><span>as Tradições</span></div>
<div id="t123" class="t" style="top:629.72px;font-size:8.3px;line-height:12px;color:#74746e;right:1128.5px;text-align:right;transform-origin:100% 0;transform:scaleX(0.972);"><span>Vamos recriar caretos de</span><br>Carnaval em colheres de pau.</div>
<div class="c" style="left:1290.6px;top:725px;width:48.4px;height:48.4px;line-height:51.4px;background:#e2fdf4;color:#3b392f"><span>23</span></div>
<div class="c" style="left:1350.7px;top:725px;width:48.4px;height:48.4px;line-height:51.4px;background:#e2fdf4;color:#3b392f"><span>24</span></div>
<div class="c" style="left:1410.7px;top:725px;width:48.4px;height:48.4px;line-height:51.4px;background:#00ffa0;color:#fff"><span>25</span></div>
<div class="c" style="left:1470.8px;top:725px;width:48.4px;height:48.4px;line-height:51.4px;background:#e2fdf4;color:#3b392f"><span>26</span></div>
<div class="c" style="left:1530.8px;top:725px;width:48.4px;height:48.4px;line-height:51.4px;background:#e2fdf4;color:#3b392f"><span>27</span></div>
<div class="c" style="left:1595.1px;top:725px;width:48.4px;height:48.4px;line-height:51.4px;background:#e2fdf4;color:#3b392f"><span>28</span></div>
<div id="t124" class="t" style="top:776.96px;font-size:7.2px;line-height:7.1px;color:#4a4a44;left:1234.5px;width:400px;text-align:center;transform-origin:50% 0;transform:scaleX(0.9);"><span>Dia da</span><br>Geografia</div>
<div id="t125" class="t" style="top:813.03px;font-size:10px;line-height:12px;color:#3b392f;letter-spacing:0.45px;left:1291px;text-align:left;transform-origin:0 0;"><span>19#</span></div>
<div id="t126" class="t" style="top:805.03px;font-size:25.6px;line-height:24.8px;color:#3b392f;font-weight:700;left:1316px;text-align:left;transform-origin:0 0;transform:scaleX(0.8995);-webkit-text-stroke:0.45px #3b392f;"><span>Sonhar sem</span></div>
<div id="t127" class="t" style="top:829.83px;font-size:25.6px;line-height:24.8px;color:#3b392f;font-weight:700;left:1315.1px;text-align:left;transform-origin:0 0;transform:scaleX(0.8965);-webkit-text-stroke:0.45px #3b392f;"><span>Fronteiras</span></div>
<div id="t128" class="t" style="top:807.77px;font-size:8.3px;line-height:12.1px;color:#74746e;right:1126.6px;text-align:right;transform-origin:100% 0;transform:scaleX(0.972);"><span>Usando materiais orgânicos e a nossa</span><br>imaginação, iremos construir o mapa do<br>mundo dos nossos sonhos.</div>
<div id="t129" class="t m" style="left:1226.46px;top:968.8px;font-size:31px;line-height:31px;color:#ff5f87;-webkit-text-stroke:1.2px #ff5f87;transform-origin:0 0;transform:rotate(-90deg) scaleX(0.9587)"><span>março</span></div>
<div class="r" style="left:1263.6px;top:877.3px;width:2.8px;height:583.5px;background:#ff5f87"></div>
<div class="r" style="left:1280.1px;top:875px;width:368.9px;height:139.7px;background:#fff0f1"></div>
<div class="c" style="left:1291.2px;top:882.6px;width:48.4px;height:48.4px;line-height:51.4px;background:#fff;color:#3b392f"><span>2</span></div>
<div class="c" style="left:1351.3px;top:882.6px;width:48.4px;height:48.4px;line-height:51.4px;background:#fff;color:#3b392f"><span>3</span></div>
<div class="c" style="left:1411.3px;top:882.6px;width:48.4px;height:48.4px;line-height:51.4px;background:#fff;color:#3b392f"><span>4</span></div>
<div class="c" style="left:1471.4px;top:882.6px;width:48.4px;height:48.4px;line-height:51.4px;background:#fff;color:#3b392f"><span>5</span></div>
<div class="c" style="left:1531.8px;top:882.6px;width:48.4px;height:48.4px;line-height:51.4px;background:#fff;color:#3b392f"><span>6</span></div>
<div class="c" style="left:1595.6px;top:882.6px;width:48.4px;height:48.4px;line-height:51.4px;background:#fff;color:#3b392f"><span>7</span></div>
<div id="t130" class="t" style="top:939.25px;font-size:16.6px;line-height:18px;color:#a9a792;left:1421.4px;width:400px;text-align:center;transform-origin:50% 0;"><span>(dom)</span></div>
<div class="c" style="left:1599.9px;top:960px;width:42.6px;height:42.6px;line-height:42.6px;background:#efe6e4;color:#a9a792"><span>8</span></div>
<div id="t131" class="t" style="top:1005.16px;font-size:7.2px;line-height:7.1px;color:#4a4a44;left:1422px;width:400px;text-align:center;transform-origin:50% 0;transform:scaleX(0.9);"><span>Dia da Mulher</span></div>
<div id="t132" class="t" style="top:969.13px;font-size:10px;line-height:12px;color:#3b392f;letter-spacing:0.45px;left:1287.6px;text-align:left;transform-origin:0 0;"><span>20#</span></div>
<div id="t133" class="t" style="top:961.53px;font-size:25.6px;line-height:25.2px;color:#3b392f;font-weight:700;left:1316.4px;text-align:left;transform-origin:0 0;transform:scaleX(0.8914);-webkit-text-stroke:0.45px #3b392f;"><span>Sonhar o</span></div>
<div id="t134" class="t" style="top:986.73px;font-size:25.6px;line-height:25.2px;color:#3b392f;font-weight:700;left:1315.49px;text-align:left;transform-origin:0 0;transform:scaleX(0.9062);-webkit-text-stroke:0.45px #3b392f;"><span>Feminino</span></div>
<div id="t135" class="t" style="top:957.42px;font-size:8.3px;line-height:12.4px;color:#74746e;right:1194.2px;text-align:right;transform-origin:100% 0;transform:scaleX(0.972);"><span>Inspirados no trabalho da artista</span><br>portuguesa Joana Vasconcelos,<br>iremos criar uma escultura com<br>elementos do nosso quotidiano.</div>
<div class="c" style="left:1291.8px;top:1030.5px;width:48.4px;height:48.4px;line-height:51.4px;background:#fff0f1;color:#3b392f"><span>9</span></div>
<div class="c" style="left:1351.6px;top:1030.5px;width:48.4px;height:48.4px;line-height:51.4px;background:#fff0f1;color:#3b392f"><span>10</span></div>
<div class="c" style="left:1411.7px;top:1030.5px;width:48.4px;height:48.4px;line-height:51.4px;background:#fff0f1;color:#3b392f"><span>11</span></div>
<div class="c" style="left:1472.1px;top:1030.5px;width:48.4px;height:48.4px;line-height:51.4px;background:#fff0f1;color:#3b392f"><span>12</span></div>
<div class="c" style="left:1532.3px;top:1030.5px;width:48.4px;height:48.4px;line-height:51.4px;background:#fff0f1;color:#3b392f"><span>13</span></div>
<div class="c" style="left:1596px;top:1030.5px;width:48.4px;height:48.4px;line-height:51.4px;background:#fff0f1;color:#3b392f"><span>14</span></div>
<div id="t136" class="t" style="top:1108.84px;font-size:10px;line-height:12px;color:#3b392f;letter-spacing:0.45px;left:1291.6px;text-align:left;transform-origin:0 0;"><span>21#</span></div>
<div id="t137" class="t" style="top:1101.08px;font-size:25.6px;line-height:24.3px;color:#3b392f;font-weight:700;left:1316px;text-align:left;transform-origin:0 0;transform:scaleX(0.8976);-webkit-text-stroke:0.45px #3b392f;"><span>Cuidar o</span></div>
<div id="t138" class="t" style="top:1125.38px;font-size:25.6px;line-height:24.3px;color:#3b392f;font-weight:700;left:1316.9px;text-align:left;transform-origin:0 0;transform:scaleX(0.8763);-webkit-text-stroke:0.45px #3b392f;"><span>Sonho</span></div>
<div id="t139" class="t" style="top:1113.72px;font-size:8.3px;line-height:12.4px;color:#74746e;right:1131.9px;text-align:right;transform-origin:100% 0;transform:scaleX(0.972);"><span>A primavera está quase a chegar por isso vamos</span><br>fazer um pequeno jardim para fadas e gnomos,<br>esses fantásticos cuidadores da natureza.</div>
<div class="r" style="left:1279.6px;top:1177.3px;width:370.4px;height:139.4px;background:#fff0f1"></div>
<div class="c" style="left:1289.3px;top:1185.2px;width:48.4px;height:48.4px;line-height:51.4px;background:#fff;color:#3b392f"><span>16</span></div>
<div class="c" style="left:1349.7px;top:1185.2px;width:48.4px;height:48.4px;line-height:51.4px;background:#fff;color:#3b392f"><span>17</span></div>
<div class="c" style="left:1409.8px;top:1185.2px;width:48.4px;height:48.4px;line-height:51.4px;background:#fff;color:#3b392f"><span>18</span></div>
<div class="c" style="left:1469.8px;top:1185.2px;width:48.4px;height:48.4px;line-height:51.4px;background:#ff7495;color:#fff"><span>19</span></div>
<div class="c" style="left:1529.9px;top:1185.2px;width:48.4px;height:48.4px;line-height:51.4px;background:#fff;color:#3b392f"><span>20</span></div>
<div class="c" style="left:1593.7px;top:1185.2px;width:48.4px;height:48.4px;line-height:51.4px;background:#fff;color:#3b392f"><span>21</span></div>
<div id="t140" class="t" style="top:1236.96px;font-size:7.2px;line-height:7.1px;color:#4a4a44;left:1295px;width:400px;text-align:center;transform-origin:50% 0;transform:scaleX(0.9);"><span>Dia do Pai</span></div>
<div id="t141" class="t" style="top:1262.14px;font-size:10px;line-height:12px;color:#3b392f;letter-spacing:0.45px;left:1292px;text-align:left;transform-origin:0 0;"><span>22#</span></div>
<div id="t142" class="t" style="top:1260.23px;font-size:25.6px;line-height:24.8px;color:#3b392f;font-weight:700;left:1316.6px;text-align:left;transform-origin:0 0;transform:scaleX(0.9029);-webkit-text-stroke:0.45px #3b392f;"><span>O Protetor</span></div>
<div id="t143" class="t" style="top:1285.03px;font-size:25.6px;line-height:24.8px;color:#3b392f;font-weight:700;left:1316.61px;text-align:left;transform-origin:0 0;transform:scaleX(0.8896);-webkit-text-stroke:0.45px #3b392f;"><span>do Sonho</span></div>
<div id="t144" class="t" style="top:1262.89px;font-size:8.3px;line-height:12.27px;color:#74746e;right:1134.8px;text-align:right;transform-origin:100% 0;transform:scaleX(0.972);"><span>Inspirados no livro infantil "Pé de Pai" de Isabel</span><br>Minhós Martins, vamos criar uma ilustração com<br>aquela que é a nossa característica preferida do<br>nosso pai.</div>
<div class="c" style="left:1288.2px;top:1332.1px;width:48.4px;height:48.4px;line-height:51.4px;background:#fff0f1;color:#3b392f"><span>23</span></div>
<div class="c" style="left:1348.2px;top:1332.1px;width:48.4px;height:48.4px;line-height:51.4px;background:#fff0f1;color:#3b392f"><span>24</span></div>
<div class="c" style="left:1408.3px;top:1332.1px;width:48.4px;height:48.4px;line-height:51.4px;background:#fff0f1;color:#3b392f"><span>25</span></div>
<div class="c" style="left:1468.5px;top:1332.1px;width:48.4px;height:48.4px;line-height:51.4px;background:#fff0f1;color:#3b392f"><span>26</span></div>
<div class="c" style="left:1528.3px;top:1332.1px;width:48.4px;height:48.4px;line-height:51.4px;background:#fff0f1;color:#3b392f"><span>27</span></div>
<div class="c" style="left:1592.8px;top:1332.1px;width:48.4px;height:48.4px;line-height:51.4px;background:#fff0f1;color:#3b392f"><span>28</span></div>
<div id="t145" class="t" style="top:1420.34px;font-size:10px;line-height:12px;color:#3b392f;letter-spacing:0.45px;left:1288.2px;text-align:left;transform-origin:0 0;"><span>23#</span></div>
<div id="t146" class="t" style="top:1411.83px;font-size:25.6px;line-height:24.8px;color:#3b392f;font-weight:700;left:1312.17px;text-align:left;transform-origin:0 0;transform:scaleX(0.9251);-webkit-text-stroke:0.45px #3b392f;"><span>Nascimento</span></div>
<div id="t147" class="t" style="top:1436.63px;font-size:25.6px;line-height:24.8px;color:#3b392f;font-weight:700;left:1312.21px;text-align:left;transform-origin:0 0;transform:scaleX(0.893);-webkit-text-stroke:0.45px #3b392f;"><span>do Sonho</span></div>
<div id="t148" class="t" style="top:1432.32px;font-size:8.3px;line-height:12.6px;color:#74746e;right:1124.3px;text-align:right;transform-origin:100% 0;transform:scaleX(0.972);"><span>Usando caixas de ovos iremos criar uma</span><br>base em forma de galinha para guardar o<br>nosso Ovo de Páscoa Onírico.</div>
<div id="t149" class="t" style="top:1503.44px;font-size:14.6px;line-height:16px;color:#a9a792;font-weight:700;left:1324.4px;text-align:left;transform-origin:0 0;transform:scaleX(0.9044);white-space:pre;"><span>Atelier  Inato encerrado de 28 de Março a 5 de Abril</span></div>
<div id="t150" class="t" style="top:1503.44px;font-size:14.6px;line-height:16px;color:#a9a792;font-weight:700;left:1301.5px;text-align:left;transform-origin:0 0;transform:scaleX(1.0415);"><span>---</span></div>
<div id="t151" class="t" style="top:1503.44px;font-size:14.6px;line-height:16px;color:#a9a792;font-weight:700;left:1653.2px;text-align:left;transform-origin:0 0;transform:scaleX(1.0415);"><span>---</span></div>
<div id="t152" class="t" style="top:222.09px;font-size:20.8px;line-height:24px;color:#3b392f;left:1587.8px;width:400px;text-align:center;transform-origin:50% 0;transform:scaleX(1.035);"><span>seg</span></div>
<div id="t153" class="t" style="top:222.09px;font-size:20.8px;line-height:24px;color:#3b392f;left:1645.7px;width:400px;text-align:center;transform-origin:50% 0;transform:scaleX(1.035);"><span>ter</span></div>
<div id="t154" class="t" style="top:222.09px;font-size:20.8px;line-height:24px;color:#3b392f;left:1704.4px;width:400px;text-align:center;transform-origin:50% 0;transform:scaleX(1.035);"><span>qua</span></div>
<div id="t155" class="t" style="top:222.09px;font-size:20.8px;line-height:24px;color:#3b392f;left:1763.5px;width:400px;text-align:center;transform-origin:50% 0;transform:scaleX(1.035);"><span>qui</span></div>
<div id="t156" class="t" style="top:222.09px;font-size:20.8px;line-height:24px;color:#3b392f;left:1827.8px;width:400px;text-align:center;transform-origin:50% 0;transform:scaleX(1.035);"><span>sex</span></div>
<div id="t157" class="t" style="top:222.09px;font-size:20.8px;line-height:24px;color:#3b392f;left:1892.8px;width:400px;text-align:center;transform-origin:50% 0;transform:scaleX(1.035);"><span>sáb</span></div>
<div id="t158" class="t m" style="left:1699.16px;top:331.6px;font-size:31px;line-height:31px;color:#fff645;-webkit-text-stroke:1.2px #fff645;transform-origin:0 0;transform:rotate(-90deg) scaleX(0.9837)"><span>abril</span></div>
<div class="r" style="left:1735px;top:269.2px;width:2.8px;height:583.8px;background:#fff645"></div>
<div class="r" style="left:1751.4px;top:267.1px;width:305.4px;height:139.7px;background:#fff87e"></div>
<svg class="a" style="left:1992.4px;top:344px" width="80" height="80" viewBox="-40 -40 80 80" fill="#fff"><rect x="-34.5" y="-4.55" width="69" height="9.1" transform="rotate(-16.6)"/><rect x="-34.5" y="-4.55" width="69" height="9.1" transform="rotate(43.8)"/><rect x="-34.5" y="-4.55" width="69" height="9.1" transform="rotate(104)"/></svg>
<div class="c" style="left:1762.4px;top:274.9px;width:48.4px;height:48.4px;line-height:51.4px;background:#fff;color:#3b392f"><span>6</span></div>
<div class="c" style="left:1822.5px;top:274.9px;width:48.4px;height:48.4px;line-height:51.4px;background:#fff;color:#3b392f"><span>7</span></div>
<div class="c" style="left:1882.7px;top:274.9px;width:48.4px;height:48.4px;line-height:51.4px;background:#fff;color:#3b392f"><span>8</span></div>
<div class="c" style="left:1942.8px;top:274.9px;width:48.4px;height:48.4px;line-height:51.4px;background:#fff;color:#3b392f"><span>9</span></div>
<div class="c" style="left:2002.8px;top:274.9px;width:48.4px;height:48.4px;line-height:51.4px;background:#fff;color:#3b392f"><span>10</span></div>
<div class="c" style="left:2066.7px;top:274.9px;width:48.4px;height:48.4px;line-height:51.4px;background:#f1f0ee;color:#a9a792"><span>11</span></div>
<div id="t159" class="t" style="top:335.11px;font-size:23.2px;line-height:22.9px;color:#fffef0;font-weight:700;left:1762.3px;text-align:left;transform-origin:0 0;transform:scaleX(0.94);-webkit-text-stroke:0.35px #fffef0;"><span>Semana</span><br>Artística de<br>Páscoa</div>
<div class="c" style="left:1763px;top:422.7px;width:48.4px;height:48.4px;line-height:51.4px;background:#fffcc7;color:#3b392f"><span>13</span></div>
<div class="c" style="left:1823.1px;top:422.7px;width:48.4px;height:48.4px;line-height:51.4px;background:#fffcc7;color:#3b392f"><span>14</span></div>
<div class="c" style="left:1883.1px;top:422.7px;width:48.4px;height:48.4px;line-height:51.4px;background:#fff87e;color:#fff"><span>15</span></div>
<div class="c" style="left:1943.5px;top:422.7px;width:48.4px;height:48.4px;line-height:51.4px;background:#fffcc7;color:#3b392f"><span>16</span></div>
<div class="c" style="left:2003.6px;top:422.7px;width:48.4px;height:48.4px;line-height:51.4px;background:#fffcc7;color:#3b392f"><span>17</span></div>
<div class="c" style="left:2067.4px;top:422.7px;width:48.4px;height:48.4px;line-height:51.4px;background:#fffcc7;color:#3b392f"><span>18</span></div>
<div id="t160" class="t" style="top:476.06px;font-size:7.2px;line-height:7.1px;color:#4a4a44;left:1706.4px;width:400px;text-align:center;transform-origin:50% 0;transform:scaleX(0.9);"><span>Dia da Arte</span></div>
<div id="t161" class="t" style="top:511.04px;font-size:10px;line-height:12px;color:#3b392f;letter-spacing:0.45px;left:1763px;text-align:left;transform-origin:0 0;"><span>24#</span></div>
<div id="t162" class="t" style="top:501.53px;font-size:25.6px;line-height:24.8px;color:#3b392f;font-weight:700;left:1787.48px;text-align:left;transform-origin:0 0;transform:scaleX(0.9152);-webkit-text-stroke:0.45px #3b392f;"><span>Pintar o</span></div>
<div id="t163" class="t" style="top:526.33px;font-size:25.6px;line-height:24.8px;color:#3b392f;font-weight:700;left:1788.4px;text-align:left;transform-origin:0 0;transform:scaleX(0.875);-webkit-text-stroke:0.45px #3b392f;"><span>Sonho</span></div>
<div id="t164" class="t" style="top:516.47px;font-size:8.3px;line-height:12.5px;color:#74746e;right:660.9px;text-align:right;transform-origin:100% 0;transform:scaleX(0.972);"><span>Inspirados nas obras oníricas de Salvador Dali</span><br>vamos pintar um quadro que represente o nosso<br>mundo do sonho.</div>
<div class="r" style="left:1751px;top:560.7px;width:370.8px;height:139.6px;background:#fffcc7"></div>
<div class="c" style="left:1761.1px;top:568.3px;width:48.4px;height:48.4px;line-height:51.4px;background:#fff;color:#3b392f"><span>20</span></div>
<div class="c" style="left:1821.2px;top:568.3px;width:48.4px;height:48.4px;line-height:51.4px;background:#fff;color:#3b392f"><span>21</span></div>
<div class="c" style="left:1881.2px;top:568.3px;width:48.4px;height:48.4px;line-height:51.4px;background:#fff;color:#3b392f"><span>22</span></div>
<div class="c" style="left:1941.6px;top:568.3px;width:48.4px;height:48.4px;line-height:51.4px;background:#fff;color:#3b392f"><span>23</span></div>
<div class="c" style="left:2001.7px;top:568.3px;width:48.4px;height:48.4px;line-height:51.4px;background:#fff;color:#3b392f"><span>24</span></div>
<div class="c" style="left:2065.5px;top:568.3px;width:48.4px;height:48.4px;line-height:51.4px;background:#fff87e;color:#fff"><span>25</span></div>
<div id="t165" class="t" style="top:619.96px;font-size:7.2px;line-height:7.1px;color:#4a4a44;left:1890.3px;width:400px;text-align:center;transform-origin:50% 0;transform:scaleX(0.9);"><span>Dia da</span><br>Liberdade</div>
<div id="t166" class="t" style="top:645.03px;font-size:10px;line-height:12px;color:#3b392f;letter-spacing:0.45px;left:1763.8px;text-align:left;transform-origin:0 0;"><span>25#</span></div>
<div id="t167" class="t" style="top:643.73px;font-size:25.6px;line-height:24.8px;color:#3b392f;font-weight:700;left:1788.02px;text-align:left;transform-origin:0 0;transform:scaleX(0.8848);-webkit-text-stroke:0.45px #3b392f;"><span>O Sonho</span></div>
<div id="t168" class="t" style="top:668.53px;font-size:25.6px;line-height:24.8px;color:#3b392f;font-weight:700;left:1788px;text-align:left;transform-origin:0 0;transform:scaleX(0.9025);-webkit-text-stroke:0.45px #3b392f;"><span>Liberta</span></div>
<div id="t169" class="t" style="top:646.49px;font-size:8.3px;line-height:12.07px;color:#74746e;right:663.2px;text-align:right;transform-origin:100% 0;transform:scaleX(0.972);"><span>Com toda a liberdade, iremos fazer acessórios de moda</span><br>que nos ajude a libertar o eu que está lá dentro, o eu<br>que quer tornar-se visível sem se preocupar com as<br>convenções sociais de quem nós devíamos ser.</div>
<div class="c" style="left:1759.8px;top:715px;width:48.4px;height:48.4px;line-height:51.4px;background:#fffcc7;color:#3b392f"><span>27</span></div>
<div class="c" style="left:1819.8px;top:715px;width:48.4px;height:48.4px;line-height:51.4px;background:#fffcc7;color:#3b392f"><span>28</span></div>
<div class="c" style="left:1879.9px;top:715px;width:48.4px;height:48.4px;line-height:51.4px;background:#fffcc7;color:#3b392f"><span>29</span></div>
<div class="c" style="left:1939.9px;top:715px;width:48.4px;height:48.4px;line-height:51.4px;background:#fffcc7;color:#3b392f"><span>30</span></div>
<div class="c" style="left:2002.8px;top:730.6px;width:48.4px;height:48.4px;line-height:51.4px;background:#f1f0ee;color:#a9a792"><span>1</span></div>
<div class="c" style="left:2067.1px;top:730.6px;width:48.4px;height:48.4px;line-height:51.4px;background:#e2fdf4;color:#3b392f"><span>2</span></div>
<div id="t170" class="t" style="top:792.05px;font-size:16.6px;line-height:18px;color:#a9a792;left:1891.3px;width:400px;text-align:center;transform-origin:50% 0;"><span>(dom)</span></div>
<div class="c" style="left:2069.25px;top:813.25px;width:43.3px;height:43.3px;line-height:43.3px;background:#f1f0ee;color:#a9a792"><span>3</span></div>
<div id="t171" class="t" style="top:860.96px;font-size:7.2px;line-height:7.1px;color:#4a4a44;left:1891.8px;width:400px;text-align:center;transform-origin:50% 0;transform:scaleX(0.9);"><span>Dia da Mãe</span></div>
<div id="t172" class="t" style="top:803.03px;font-size:10px;line-height:12px;color:#3b392f;letter-spacing:0.45px;left:1759.6px;text-align:left;transform-origin:0 0;"><span>26#</span></div>
<div id="t173" class="t" style="top:795.03px;font-size:25.6px;line-height:24.8px;color:#3b392f;font-weight:700;left:1784.9px;text-align:left;transform-origin:0 0;transform:scaleX(0.8932);-webkit-text-stroke:0.45px #3b392f;"><span>A que Ajuda o</span></div>
<div id="t174" class="t" style="top:819.83px;font-size:25.6px;line-height:24.8px;color:#3b392f;font-weight:700;left:1784.9px;text-align:left;transform-origin:0 0;transform:scaleX(0.8941);-webkit-text-stroke:0.45px #3b392f;"><span>Sonho a Crescer</span></div>
<div id="t175" class="t" style="top:786.76px;font-size:8.3px;line-height:12.33px;color:#74746e;right:725.3px;text-align:right;transform-origin:100% 0;transform:scaleX(0.972);"><span>Vamos fazer um presente</span><br>para as nossas mães que<br>homenageia tudo o que<br>elas fazem por nós.</div>
<div id="t176" class="t m" style="left:1702.66px;top:960.7px;font-size:31px;line-height:31px;color:#00ffa0;-webkit-text-stroke:1.2px #00ffa0;transform-origin:0 0;transform:rotate(-90deg) scaleX(0.9688)"><span>maio</span></div>
<div class="r" style="left:1738.3px;top:892px;width:2.8px;height:583.6px;background:#00ffa0"></div>
<div class="r" style="left:1756.3px;top:890.2px;width:368.3px;height:139.5px;background:#e2fdf4"></div>
<div class="c" style="left:1765.9px;top:897.4px;width:48.4px;height:48.4px;line-height:51.4px;background:#fff;color:#3b392f"><span>4</span></div>
<div class="c" style="left:1827.4px;top:897.4px;width:48.4px;height:48.4px;line-height:51.4px;background:#fff;color:#3b392f"><span>5</span></div>
<div class="c" style="left:1887.9px;top:897.4px;width:48.4px;height:48.4px;line-height:51.4px;background:#fff;color:#3b392f"><span>6</span></div>
<div class="c" style="left:1947.5px;top:897.4px;width:48.4px;height:48.4px;line-height:51.4px;background:#fff;color:#3b392f"><span>7</span></div>
<div class="c" style="left:2008px;top:897.4px;width:48.4px;height:48.4px;line-height:51.4px;background:#fff;color:#3b392f"><span>8</span></div>
<div class="c" style="left:2071.8px;top:897.4px;width:48.4px;height:48.4px;line-height:51.4px;background:#00ffa0;color:#fff"><span>9</span></div>
<div id="t177" class="t" style="top:949.96px;font-size:7.2px;line-height:7.1px;color:#4a4a44;left:1897.5px;width:400px;text-align:center;transform-origin:50% 0;transform:scaleX(0.9);"><span>Dia das Meias</span><br>Perdidas</div>
<div id="t178" class="t" style="top:984.83px;font-size:10px;line-height:12px;color:#3b392f;letter-spacing:0.45px;left:1767.2px;text-align:left;transform-origin:0 0;"><span>27#</span></div>
<div id="t179" class="t" style="top:976.53px;font-size:25.6px;line-height:24.8px;color:#3b392f;font-weight:700;left:1791.92px;text-align:left;transform-origin:0 0;transform:scaleX(0.8813);-webkit-text-stroke:0.45px #3b392f;"><span>O Sonho Cria</span></div>
<div id="t180" class="t" style="top:1001.33px;font-size:25.6px;line-height:24.8px;color:#3b392f;font-weight:700;left:1792.8px;text-align:left;transform-origin:0 0;transform:scaleX(0.8956);-webkit-text-stroke:0.45px #3b392f;"><span>Vida Nova</span></div>
<div id="t181" class="t" style="top:986.52px;font-size:8.3px;line-height:12.4px;color:#74746e;right:656.7px;text-align:right;transform-origin:100% 0;transform:scaleX(0.972);"><span>Com aquelas meias das quais perdemos</span><br>o par e que, por isso, parecem já inúteis<br>iremos fazer fantoches divertidos!</div>
<div class="r" style="left:1940.9px;top:1036.1px;width:64.2px;height:139.6px;background:#00ffa0"></div>
<svg class="a" style="left:1965.8px;top:1077.8px" width="66.4" height="66.4" viewBox="-33.2 -33.2 66.4 66.4" fill="#fff"><rect x="-28.63" y="-3.78" width="57.27" height="7.55" transform="rotate(-16.6)"/><rect x="-28.63" y="-3.78" width="57.27" height="7.55" transform="rotate(43.8)"/><rect x="-28.63" y="-3.78" width="57.27" height="7.55" transform="rotate(104)"/></svg>
<div class="c" style="left:1767.8px;top:1045.3px;width:48.4px;height:48.4px;line-height:51.4px;background:#e2fdf4;color:#3b392f"><span>11</span></div>
<div class="c" style="left:1827.8px;top:1045.3px;width:48.4px;height:48.4px;line-height:51.4px;background:#e2fdf4;color:#3b392f"><span>12</span></div>
<div class="c" style="left:1888.3px;top:1045.3px;width:48.4px;height:48.4px;line-height:51.4px;background:#e2fdf4;color:#3b392f"><span>13</span></div>
<div class="c" style="left:1948.3px;top:1045.3px;width:48.4px;height:48.4px;line-height:51.4px;background:#fff;color:#3b392f"><span>14</span></div>
<div class="c" style="left:2008.3px;top:1045.3px;width:48.4px;height:48.4px;line-height:51.4px;background:#e2fdf4;color:#3b392f"><span>15</span></div>
<div class="c" style="left:2072.4px;top:1045.3px;width:48.4px;height:48.4px;line-height:51.4px;background:#e2fdf4;color:#3b392f"><span>16</span></div>
<div id="t182" class="t" style="top:1128.46px;font-size:12.8px;line-height:13.8px;color:#fff;font-weight:700;left:1945.3px;text-align:left;transform-origin:0 0;transform:scaleX(1.02);white-space:pre;-webkit-text-stroke:0.3px #fff;"><span>Atelier</span><br>dia  da<br>Espiga</div>
<div id="t183" class="t" style="top:1133.14px;font-size:10px;line-height:12px;color:#3b392f;letter-spacing:0.45px;left:1768.2px;text-align:left;transform-origin:0 0;"><span>28#</span></div>
<div id="t184" class="t" style="top:1124.43px;font-size:25.6px;line-height:25.2px;color:#3b392f;font-weight:700;left:1792.22px;text-align:left;transform-origin:0 0;transform:scaleX(0.8829);-webkit-text-stroke:0.45px #3b392f;"><span>O Sonho</span></div>
<div id="t185" class="t" style="top:1149.63px;font-size:25.6px;line-height:25.2px;color:#3b392f;font-weight:700;left:1792.2px;text-align:left;transform-origin:0 0;transform:scaleX(0.9035);-webkit-text-stroke:0.45px #3b392f;"><span>Floresce</span></div>
<div id="t186" class="t" style="top:1141.42px;font-size:8.3px;line-height:12.4px;color:#74746e;right:652.3px;text-align:right;transform-origin:100% 0;transform:scaleX(0.972);"><span>Para comemorar o dia da</span><br>Espiga iremos fazer um ramo<br>de flores de papel e/ou crochet.</div>
<div class="r" style="left:1756.3px;top:1192px;width:369.7px;height:139.5px;background:#e2fdf4"></div>
<div class="c" style="left:1765.5px;top:1200px;width:48.4px;height:48.4px;line-height:51.4px;background:#fff;color:#3b392f"><span>18</span></div>
<div class="c" style="left:1825.9px;top:1200px;width:48.4px;height:48.4px;line-height:51.4px;background:#fff;color:#3b392f"><span>19</span></div>
<div class="c" style="left:1886px;top:1200px;width:48.4px;height:48.4px;line-height:51.4px;background:#00ffa0;color:#fff"><span>20</span></div>
<div class="c" style="left:1946px;top:1200px;width:48.4px;height:48.4px;line-height:51.4px;background:#fff;color:#3b392f"><span>21</span></div>
<div class="c" style="left:2006.1px;top:1200px;width:48.4px;height:48.4px;line-height:51.4px;background:#fff;color:#3b392f"><span>22</span></div>
<div class="c" style="left:2070.3px;top:1200px;width:48.4px;height:48.4px;line-height:51.4px;background:#fff;color:#3b392f"><span>23</span></div>
<div id="t187" class="t" style="top:1250.86px;font-size:7.2px;line-height:7.1px;color:#4a4a44;left:1711.1px;width:400px;text-align:center;transform-origin:50% 0;transform:scaleX(0.9);"><span>Dia das</span><br>Abelhas</div>
<div id="t188" class="t" style="top:1279.24px;font-size:10px;line-height:12px;color:#3b392f;letter-spacing:0.45px;left:1763px;text-align:left;transform-origin:0 0;"><span>29#</span></div>
<div id="t189" class="t" style="top:1272.93px;font-size:25.6px;line-height:24.2px;color:#3b392f;font-weight:700;left:1789.01px;text-align:left;transform-origin:0 0;transform:scaleX(0.8892);-webkit-text-stroke:0.45px #3b392f;"><span>O Sonho que</span></div>
<div id="t190" class="t" style="top:1297.13px;font-size:25.6px;line-height:24.2px;color:#3b392f;font-weight:700;left:1789.9px;text-align:left;transform-origin:0 0;transform:scaleX(0.893);-webkit-text-stroke:0.45px #3b392f;"><span>se Propaga</span></div>
<div id="t191" class="t" style="top:1266.7px;font-size:8.3px;line-height:12.25px;color:#74746e;right:656.7px;text-align:right;transform-origin:100% 0;transform:scaleX(0.972);"><span>Em homenagem a estas pequenas</span><br>trabalhadoras, sem as quais o mundo como<br>hoje conhecemos não existiria, iremos<br>decorar um vaso de flores com cordas e<br>abelhas feitas de missangas e arame.</div>
<div class="c" style="left:1764.3px;top:1350.2px;width:48.4px;height:48.4px;line-height:51.4px;background:#e2fdf4;color:#3b392f"><span>25</span></div>
<div class="c" style="left:1824.4px;top:1350.2px;width:48.4px;height:48.4px;line-height:51.4px;background:#e2fdf4;color:#3b392f"><span>26</span></div>
<div class="c" style="left:1884.4px;top:1350.2px;width:48.4px;height:48.4px;line-height:51.4px;background:#e2fdf4;color:#3b392f"><span>27</span></div>
<div class="c" style="left:1944.7px;top:1350.2px;width:48.4px;height:48.4px;line-height:51.4px;background:#e2fdf4;color:#3b392f"><span>28</span></div>
<div class="c" style="left:2004.7px;top:1350.2px;width:48.4px;height:48.4px;line-height:51.4px;background:#e2fdf4;color:#3b392f"><span>29</span></div>
<div class="c" style="left:2068.6px;top:1350.2px;width:48.4px;height:48.4px;line-height:51.4px;background:#e2fdf4;color:#3b392f"><span>30</span></div>
<div id="t192" class="t" style="top:1408.45px;font-size:16.6px;line-height:18px;color:#a9a792;left:1895.5px;width:400px;text-align:center;transform-origin:50% 0;"><span>(dom)</span></div>
<div class="c" style="left:2073.85px;top:1429.15px;width:43.3px;height:43.3px;line-height:43.3px;background:#f1f0ee;color:#a9a792"><span>31</span></div>
<div id="t193" class="t" style="top:1476.96px;font-size:7.2px;line-height:7.1px;color:#4a4a44;left:1896.4px;width:400px;text-align:center;transform-origin:50% 0;transform:scaleX(0.9);"><span>Dia dos Irmãos</span></div>
<div id="t194" class="t" style="top:1437.84px;font-size:10px;line-height:12px;color:#3b392f;letter-spacing:0.45px;left:1765.9px;text-align:left;transform-origin:0 0;"><span>30#</span></div>
<div id="t195" class="t" style="top:1429.73px;font-size:25.6px;line-height:24.8px;color:#3b392f;font-weight:700;left:1789.3px;text-align:left;transform-origin:0 0;transform:scaleX(0.8974);-webkit-text-stroke:0.45px #3b392f;"><span>Sonhamos</span></div>
<div id="t196" class="t" style="top:1454.53px;font-size:25.6px;line-height:24.8px;color:#3b392f;font-weight:700;left:1789.3px;text-align:left;transform-origin:0 0;transform:scaleX(0.8953);-webkit-text-stroke:0.45px #3b392f;"><span>Juntos</span></div>
<div id="t197" class="t" style="top:1420.39px;font-size:8.3px;line-height:12.46px;color:#74746e;right:723.2px;text-align:right;transform-origin:100% 0;transform:scaleX(0.972);"><span>Os nossos poderes em conjunto</span><br>com os dos nossos irmãos<br>transformam-nos em hiper super<br>heróis. Vamos fazer uma "action<br>figure" em cartão do nosso hiper<br>super herói.</div>
<div id="t198" class="t" style="top:220.19px;font-size:20.8px;line-height:24px;color:#3b392f;left:2054px;width:400px;text-align:center;transform-origin:50% 0;transform:scaleX(1.035);"><span>seg</span></div>
<div id="t199" class="t" style="top:220.19px;font-size:20.8px;line-height:24px;color:#3b392f;left:2111.9px;width:400px;text-align:center;transform-origin:50% 0;transform:scaleX(1.035);"><span>ter</span></div>
<div id="t200" class="t" style="top:220.19px;font-size:20.8px;line-height:24px;color:#3b392f;left:2170.3px;width:400px;text-align:center;transform-origin:50% 0;transform:scaleX(1.035);"><span>qua</span></div>
<div id="t201" class="t" style="top:220.19px;font-size:20.8px;line-height:24px;color:#3b392f;left:2229.7px;width:400px;text-align:center;transform-origin:50% 0;transform:scaleX(1.035);"><span>qui</span></div>
<div id="t202" class="t" style="top:220.19px;font-size:20.8px;line-height:24px;color:#3b392f;left:2294px;width:400px;text-align:center;transform-origin:50% 0;transform:scaleX(1.035);"><span>sex</span></div>
<div id="t203" class="t" style="top:220.19px;font-size:20.8px;line-height:24px;color:#3b392f;left:2359px;width:400px;text-align:center;transform-origin:50% 0;transform:scaleX(1.035);"><span>sáb</span></div>
<div id="t204" class="t m" style="left:2164.56px;top:344.6px;font-size:31px;line-height:31px;color:#ff5f87;-webkit-text-stroke:1.2px #ff5f87;transform-origin:0 0;transform:rotate(-90deg) scaleX(0.9294)"><span>junho</span></div>
<div class="r" style="left:2201.6px;top:267.3px;width:2.8px;height:583.9px;background:#ff5f87"></div>
<div class="r" style="left:2217.8px;top:265.4px;width:372.4px;height:139.6px;background:#fff0f1"></div>
<div class="c" style="left:2228.8px;top:273px;width:48.4px;height:48.4px;line-height:51.4px;background:#ff7495;color:#fff"><span>1</span></div>
<div class="c" style="left:2288.9px;top:273px;width:48.4px;height:48.4px;line-height:51.4px;background:#fff;color:#3b392f"><span>2</span></div>
<div class="c" style="left:2348.9px;top:273px;width:48.4px;height:48.4px;line-height:51.4px;background:#fff;color:#3b392f"><span>3</span></div>
<div class="c" style="left:2409px;top:273px;width:48.4px;height:48.4px;line-height:51.4px;background:#fff;color:#3b392f"><span>4</span></div>
<div class="c" style="left:2469px;top:273px;width:48.4px;height:48.4px;line-height:51.4px;background:#fff;color:#3b392f"><span>5</span></div>
<div class="c" style="left:2533.3px;top:273px;width:48.4px;height:48.4px;line-height:51.4px;background:#fff;color:#3b392f"><span>6</span></div>
<div id="t205" class="t" style="top:326.16px;font-size:7.2px;line-height:7.1px;color:#4a4a44;left:2054.4px;width:400px;text-align:center;transform-origin:50% 0;transform:scaleX(0.9);"><span>Dia da  Criança</span></div>
<div id="t206" class="t" style="top:359.94px;font-size:10px;line-height:12px;color:#3b392f;letter-spacing:0.45px;left:2230px;text-align:left;transform-origin:0 0;"><span>31#</span></div>
<div id="t207" class="t" style="top:351.73px;font-size:25.6px;line-height:24.8px;color:#3b392f;font-weight:700;left:2254.61px;text-align:left;transform-origin:0 0;transform:scaleX(0.8922);-webkit-text-stroke:0.45px #3b392f;"><span>Brincar</span></div>
<div id="t208" class="t" style="top:376.53px;font-size:25.6px;line-height:24.8px;color:#3b392f;font-weight:700;left:2254.61px;text-align:left;transform-origin:0 0;transform:scaleX(0.8946);-webkit-text-stroke:0.45px #3b392f;"><span>é o Sonho</span></div>
<div id="t209" class="t" style="top:346.69px;font-size:8.3px;line-height:12.27px;color:#74746e;right:193.3px;text-align:right;transform-origin:100% 0;transform:scaleX(0.972);"><span>Para festejarmos este dia tão importante que é o Dia</span><br>da Criança, faremos um brinquedo, claro. Vamos<br>construir umas bonecas muito giras usando lã,<br>arames felpudos e  massa.</div>
<div class="r" style="left:2344.4px;top:412.7px;width:64.5px;height:139.9px;background:#ff7495"></div>
<svg class="a" style="left:2372.4px;top:454.8px" width="66.4" height="66.4" viewBox="-33.2 -33.2 66.4 66.4" fill="#fff"><rect x="-28.63" y="-3.78" width="57.27" height="7.55" transform="rotate(-16.6)"/><rect x="-28.63" y="-3.78" width="57.27" height="7.55" transform="rotate(43.8)"/><rect x="-28.63" y="-3.78" width="57.27" height="7.55" transform="rotate(104)"/></svg>
<div class="c" style="left:2229.2px;top:421.1px;width:48.4px;height:48.4px;line-height:51.4px;background:#ff7495;color:#fff"><span>8</span></div>
<div class="c" style="left:2289.2px;top:421.1px;width:48.4px;height:48.4px;line-height:51.4px;background:#fff0f1;color:#3b392f"><span>9</span></div>
<div class="c" style="left:2349.4px;top:421.1px;width:48.4px;height:48.4px;line-height:51.4px;background:#fff;color:#3b392f"><span>10</span></div>
<div class="c" style="left:2409.7px;top:421.1px;width:48.4px;height:48.4px;line-height:51.4px;background:#fff0f1;color:#3b392f"><span>11</span></div>
<div class="c" style="left:2469.8px;top:421.1px;width:48.4px;height:48.4px;line-height:51.4px;background:#fff0f1;color:#3b392f"><span>12</span></div>
<div class="c" style="left:2533.6px;top:421.1px;width:48.4px;height:48.4px;line-height:51.4px;background:#ff7495;color:#fff"><span>13</span></div>
<div id="t210" class="t" style="top:475.16px;font-size:7.2px;line-height:6.3px;color:#4a4a44;left:2052.8px;width:400px;text-align:center;transform-origin:50% 0;transform:scaleX(0.9);"><span>Dia dos</span><br>Oceanos</div>
<div id="t211" class="t" style="top:475.16px;font-size:7.2px;line-height:6.3px;color:#4a4a44;left:2358.4px;width:400px;text-align:center;transform-origin:50% 0;transform:scaleX(0.9);"><span>Dia de Santo</span><br>António</div>
<div id="t212" class="t" style="top:502.91px;font-size:12.8px;line-height:14.1px;color:#fff;font-weight:700;left:2348.3px;text-align:left;transform-origin:0 0;transform:scaleX(1.02);white-space:pre;-webkit-text-stroke:0.3px #fff;"><span>Atelier</span><br>dia  de<br>Portugal</div>
<div id="t213" class="t" style="top:510.14px;font-size:10px;line-height:12px;color:#3b392f;letter-spacing:0.45px;left:2229px;text-align:left;transform-origin:0 0;"><span>32#</span></div>
<div id="t214" class="t" style="top:500.41px;font-size:23.2px;line-height:22.3px;color:#3b392f;font-weight:700;left:2253.68px;text-align:left;transform-origin:0 0;transform:scaleX(0.9183);-webkit-text-stroke:0.45px #3b392f;"><span>Navegar</span></div>
<div id="t215" class="t" style="top:522.71px;font-size:23.2px;line-height:22.3px;color:#3b392f;font-weight:700;left:2254.6px;text-align:left;transform-origin:0 0;transform:scaleX(0.8805);-webkit-text-stroke:0.45px #3b392f;"><span>o Sonho</span></div>
<div id="t216" class="t" style="top:499.44px;font-size:8.3px;line-height:12.37px;color:#74746e;right:194.3px;text-align:right;transform-origin:100% 0;transform:scaleX(0.972);"><span>Juntamos estes dois dias para trabalhar</span><br>num projecto que faz todo o sentido<br>nesta altura do ano, a sardinha, claro!  Vai<br>ficar a sardinha dos nossos sonhos.</div>
<div class="r" style="left:2217.2px;top:558.8px;width:305px;height:139.7px;background:#ff7495"></div>
<svg class="a" style="left:2458.2px;top:635.2px" width="80" height="80" viewBox="-40 -40 80 80" fill="#fff"><rect x="-34.5" y="-4.55" width="69" height="9.1" transform="rotate(-16.6)"/><rect x="-34.5" y="-4.55" width="69" height="9.1" transform="rotate(43.8)"/><rect x="-34.5" y="-4.55" width="69" height="9.1" transform="rotate(104)"/></svg>
<div class="c" style="left:2227.3px;top:566.4px;width:48.4px;height:48.4px;line-height:51.4px;background:#fff;color:#3b392f"><span>15</span></div>
<div class="c" style="left:2287.7px;top:566.4px;width:48.4px;height:48.4px;line-height:51.4px;background:#fff;color:#3b392f"><span>16</span></div>
<div class="c" style="left:2347.8px;top:566.4px;width:48.4px;height:48.4px;line-height:51.4px;background:#fff;color:#3b392f"><span>17</span></div>
<div class="c" style="left:2408px;top:566.4px;width:48.4px;height:48.4px;line-height:51.4px;background:#fff;color:#3b392f"><span>18</span></div>
<div class="c" style="left:2468.1px;top:566.4px;width:48.4px;height:48.4px;line-height:51.4px;background:#fff;color:#3b392f"><span>19</span></div>
<div class="c" style="left:2532.3px;top:566.4px;width:48.4px;height:48.4px;line-height:51.4px;background:#f1f0ee;color:#a9a792"><span>20</span></div>
<div id="t217" class="t" style="top:631.43px;font-size:10px;line-height:12px;color:#fff;letter-spacing:0.45px;left:2229px;text-align:left;transform-origin:0 0;"><span>1#</span></div>
<div id="t218" class="t" style="top:629.81px;font-size:23.2px;line-height:22.7px;color:#fff;font-weight:700;left:2247.6px;text-align:left;transform-origin:0 0;transform:scaleX(0.94);-webkit-text-stroke:0.35px #fff;"><span>Semana</span><br>Artística de<br>Verão</div>
<div class="r" style="left:2217.8px;top:709.6px;width:305px;height:139.7px;background:#ff7495"></div>
<svg class="a" style="left:2458.6px;top:786px" width="80" height="80" viewBox="-40 -40 80 80" fill="#fff"><rect x="-34.5" y="-4.55" width="69" height="9.1" transform="rotate(-16.6)"/><rect x="-34.5" y="-4.55" width="69" height="9.1" transform="rotate(43.8)"/><rect x="-34.5" y="-4.55" width="69" height="9.1" transform="rotate(104)"/></svg>
<div class="c" style="left:2227.9px;top:717.2px;width:48.4px;height:48.4px;line-height:51.4px;background:#fff;color:#3b392f"><span>22</span></div>
<div class="c" style="left:2288.3px;top:717.2px;width:48.4px;height:48.4px;line-height:51.4px;background:#fff;color:#3b392f"><span>23</span></div>
<div class="c" style="left:2348.3px;top:717.2px;width:48.4px;height:48.4px;line-height:51.4px;background:#fff;color:#3b392f"><span>24</span></div>
<div class="c" style="left:2408.4px;top:717.2px;width:48.4px;height:48.4px;line-height:51.4px;background:#fff;color:#3b392f"><span>25</span></div>
<div class="c" style="left:2468.8px;top:717.2px;width:48.4px;height:48.4px;line-height:51.4px;background:#fff;color:#3b392f"><span>26</span></div>
<div class="c" style="left:2533.6px;top:717.2px;width:48.4px;height:48.4px;line-height:51.4px;background:#f1f0ee;color:#a9a792"><span>27</span></div>
<div id="t219" class="t" style="top:781.23px;font-size:10px;line-height:12px;color:#fff;letter-spacing:0.45px;left:2230.1px;text-align:left;transform-origin:0 0;"><span>2#</span></div>
<div id="t220" class="t" style="top:778.26px;font-size:23.2px;line-height:22.4px;color:#fff;font-weight:700;left:2247.6px;text-align:left;transform-origin:0 0;transform:scaleX(0.94);-webkit-text-stroke:0.35px #fff;"><span>Semana</span><br>Artística de<br>Verão</div>
<div id="t221" class="t" style="top:877.84px;font-size:14.6px;line-height:16px;color:#a9a792;font-weight:700;left:2208.2px;text-align:left;transform-origin:0 0;transform:scaleX(0.8985);white-space:pre;"><span>Atelier  Inato encerrado de 27 de Junho a 5 de Julho</span></div>
<div id="t222" class="t" style="top:877.84px;font-size:14.6px;line-height:16px;color:#a9a792;font-weight:700;left:2191.1px;text-align:left;transform-origin:0 0;transform:scaleX(0.9759);"><span>--</span></div>
<div id="t223" class="t" style="top:877.84px;font-size:14.6px;line-height:16px;color:#a9a792;font-weight:700;left:2541.8px;text-align:left;transform-origin:0 0;transform:scaleX(0.9759);"><span>--</span></div>
<div id="t224" class="t m" style="left:2161.06px;top:985.6px;font-size:31px;line-height:31px;color:#fff645;-webkit-text-stroke:1.2px #fff645;transform-origin:0 0;transform:rotate(-90deg) scaleX(0.9372)"><span>julho</span></div>
<div class="r" style="left:2202.1px;top:915.3px;width:2.8px;height:290.9px;background:#fff645"></div>
<div class="r" style="left:2215.3px;top:913px;width:305px;height:139.9px;background:#fff87e"></div>
<svg class="a" style="left:2456.2px;top:989.6px" width="80" height="80" viewBox="-40 -40 80 80" fill="#fff"><rect x="-34.5" y="-4.55" width="69" height="9.1" transform="rotate(-16.6)"/><rect x="-34.5" y="-4.55" width="69" height="9.1" transform="rotate(43.8)"/><rect x="-34.5" y="-4.55" width="69" height="9.1" transform="rotate(104)"/></svg>
<div class="c" style="left:2226px;top:920.6px;width:48.4px;height:48.4px;line-height:51.4px;background:#fff;color:#3b392f"><span>6</span></div>
<div class="c" style="left:2286.4px;top:920.6px;width:48.4px;height:48.4px;line-height:51.4px;background:#fff;color:#3b392f"><span>7</span></div>
<div class="c" style="left:2346.4px;top:920.6px;width:48.4px;height:48.4px;line-height:51.4px;background:#fff;color:#3b392f"><span>8</span></div>
<div class="c" style="left:2406.5px;top:920.6px;width:48.4px;height:48.4px;line-height:51.4px;background:#fff;color:#3b392f"><span>9</span></div>
<div class="c" style="left:2466.9px;top:920.6px;width:48.4px;height:48.4px;line-height:51.4px;background:#fff;color:#3b392f"><span>10</span></div>
<div class="c" style="left:2530.4px;top:920.6px;width:48.4px;height:48.4px;line-height:51.4px;background:#f1f0ee;color:#a9a792"><span>11</span></div>
<div id="t225" class="t" style="top:985.03px;font-size:10px;line-height:12px;color:#fffef0;letter-spacing:0.45px;left:2228.6px;text-align:left;transform-origin:0 0;"><span>3#</span></div>
<div id="t226" class="t" style="top:980.81px;font-size:23.2px;line-height:22.9px;color:#fffef0;font-weight:700;left:2245.7px;text-align:left;transform-origin:0 0;transform:scaleX(0.94);-webkit-text-stroke:0.35px #fffef0;"><span>Semana</span><br>Artística de<br>Verão</div>
<div class="r" style="left:2215.9px;top:1066.2px;width:304.9px;height:139.6px;background:#fff87e"></div>
<svg class="a" style="left:2456.7px;top:1142.5px" width="80" height="80" viewBox="-40 -40 80 80" fill="#fff"><rect x="-34.5" y="-4.55" width="69" height="9.1" transform="rotate(-16.6)"/><rect x="-34.5" y="-4.55" width="69" height="9.1" transform="rotate(43.8)"/><rect x="-34.5" y="-4.55" width="69" height="9.1" transform="rotate(104)"/></svg>
<div class="c" style="left:2226.7px;top:1074.1px;width:48.4px;height:48.4px;line-height:51.4px;background:#fff;color:#3b392f"><span>13</span></div>
<div class="c" style="left:2287px;top:1074.1px;width:48.4px;height:48.4px;line-height:51.4px;background:#fff;color:#3b392f"><span>14</span></div>
<div class="c" style="left:2347px;top:1074.1px;width:48.4px;height:48.4px;line-height:51.4px;background:#fff;color:#3b392f"><span>15</span></div>
<div class="c" style="left:2407.1px;top:1074.1px;width:48.4px;height:48.4px;line-height:51.4px;background:#fff;color:#3b392f"><span>16</span></div>
<div class="c" style="left:2467.5px;top:1074.1px;width:48.4px;height:48.4px;line-height:51.4px;background:#fff;color:#3b392f"><span>17</span></div>
<div class="c" style="left:2531.3px;top:1074.1px;width:48.4px;height:48.4px;line-height:51.4px;background:#f1f0ee;color:#a9a792"><span>18</span></div>
<div id="t227" class="t" style="top:1142.04px;font-size:10px;line-height:12px;color:#fffef0;letter-spacing:0.45px;left:2226.7px;text-align:left;transform-origin:0 0;"><span>4#</span></div>
<div id="t228" class="t" style="top:1134.51px;font-size:23.2px;line-height:22.9px;color:#fffef0;font-weight:700;left:2245.7px;text-align:left;transform-origin:0 0;transform:scaleX(0.94);-webkit-text-stroke:0.35px #fffef0;"><span>Semana</span><br>Artística de<br>Verão</div>
<div id="t229" class="t" style="top:1236.74px;font-size:14.6px;line-height:19.6px;color:#a9a792;font-weight:700;left:2169.2px;width:400px;text-align:center;transform-origin:50% 0;transform:scaleX(0.9023);white-space:pre;"><span>Atelier  Inato encerrado de 18 de Julho até ao recomeço</span><br>do ano lectivo de 2026/2027</div>
<div class="c" style="left:2220.2px;top:1333.1px;width:48.4px;height:48.4px;line-height:51.4px;background:#f1f0ee;color:#a9a792"><span></span></div>
<div id="t230" class="t" style="top:1351.34px;font-size:12px;line-height:14px;color:#45453f;left:2284.3px;text-align:left;transform-origin:0 0;"><span>dias em que o atelier Inato está fechado</span></div>
<div class="r" style="left:2222.1px;top:1407.8px;width:44.9px;height:74.1px;background:#efedfc"></div>
<div class="r" style="left:2222.1px;top:1407.8px;width:44.9px;height:74.1px;overflow:hidden;background:none">
<svg class="a" style="left:6.4px;top:27.9px" width="52.8" height="52.8" viewBox="-26.4 -26.4 52.8 52.8" fill="#fff"><rect x="-22.77" y="-3" width="45.54" height="6.01" transform="rotate(-16.6)"/><rect x="-22.77" y="-3" width="45.54" height="6.01" transform="rotate(43.8)"/><rect x="-22.77" y="-3" width="45.54" height="6.01" transform="rotate(104)"/></svg>
</div>
<div id="t231" class="t" style="top:1439.14px;font-size:12px;line-height:14px;color:#45453f;left:2284.3px;text-align:left;transform-origin:0 0;transform:scaleX(1.0016);"><span>Ateliers e Semanas Artísticas Inato</span></div>
</div>
</body></html>
